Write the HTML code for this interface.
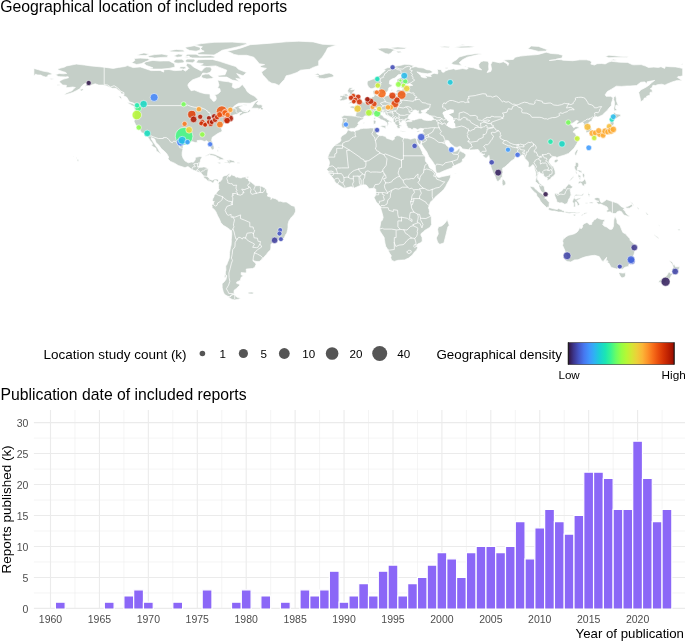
<!DOCTYPE html>
<html><head><meta charset="utf-8"><title>Figure</title>
<style>
html,body{margin:0;padding:0;background:#fff;}
svg{display:block;font-family:"Liberation Sans",sans-serif;}
</style></head><body>
<svg width="685" height="641" viewBox="0 0 685 641">
<rect width="685" height="641" fill="#fff"/>
<path d="M58.8,68.5L64.6,67.1L66.6,65.9L76.3,64.1L84.4,65.0L90.7,65.9L97.0,66.5L104.2,67.2L113.2,68.4L118.6,67.4L124.9,66.5L127.6,65.6L133.1,67.6L140.3,66.9L151.1,70.6L160.1,70.4L163.7,72.1L163.7,69.7L169.1,69.5L174.5,70.6L181.7,70.2L182.6,69.1L185.3,71.1L188.0,69.3L188.9,68.4L186.2,65.6L187.1,63.2L190.7,64.3L192.5,66.1L194.3,67.4L197.0,68.7L199.7,70.2L201.5,71.1L204.2,68.0L206.0,66.9L210.5,67.1L211.8,69.3L210.5,72.1L206.9,73.4L202.8,73.0L201.5,75.2L199.7,77.3L194.9,79.0L192.5,79.9L188.9,83.1L187.8,85.1L188.6,87.3L191.1,90.7L194.3,90.1L200.4,92.5L205.1,93.7L210.0,94.0L210.2,98.1L212.0,99.4L213.1,101.3L215.0,101.1L216.3,99.0L215.9,96.3L214.5,95.1L218.1,93.8L220.4,91.6L219.9,88.8L217.6,87.9L219.0,85.1L217.7,80.6L218.6,80.3L222.1,81.0L228.6,81.8L232.9,83.2L232.2,87.0L235.0,88.4L239.4,87.3L242.3,84.4L245.7,88.8L247.1,91.6L250.2,94.0L254.7,96.3L257.9,99.6L255.4,101.1L250.2,103.3L243.0,103.1L238.6,103.3L234.9,105.6L232.2,108.2L230.0,109.7L233.1,108.0L237.6,105.9L242.1,105.2L242.6,105.9L238.8,107.4L241.2,109.3L242.1,110.8L243.9,111.3L247.5,111.7L249.5,109.3L250.5,111.1L248.4,112.6L243.7,113.7L240.1,115.8L239.2,115.2L239.7,113.7L242.1,112.3L239.4,112.6L237.6,113.9L234.0,114.9L231.8,115.6L230.4,118.0L232.2,119.0L229.8,119.5L228.6,120.4L225.0,121.2L225.0,123.2L223.2,124.3L222.2,123.2L223.0,125.5L221.5,127.7L220.6,125.1L220.8,127.9L221.3,128.1L222.2,131.2L220.4,132.3L217.7,133.6L214.3,135.9L212.3,137.2L211.6,140.3L213.2,143.9L214.1,147.0L214.0,148.7L212.7,150.0L212.2,150.0L210.9,148.2L209.1,145.0L208.7,142.6L206.9,140.7L204.4,141.5L201.2,140.3L199.7,140.3L197.0,140.7L197.6,142.6L195.2,142.6L192.9,141.8L189.3,141.5L187.5,142.2L184.6,143.9L183.0,145.2L183.1,148.5L182.2,152.1L182.1,155.2L183.1,158.2L185.1,161.0L187.1,162.1L188.2,162.8L191.3,162.1L193.4,162.3L195.2,159.9L195.4,157.6L196.8,157.1L199.7,156.5L201.5,156.7L201.9,157.5L200.8,159.1L200.1,162.3L199.4,164.1L199.0,166.0L198.1,167.1L199.7,167.3L201.9,167.3L203.3,166.9L205.1,167.1L208.4,168.8L208.0,170.7L207.5,174.4L207.5,176.4L208.7,178.1L210.2,179.4L212.3,180.3L214.3,179.2L215.9,179.0L217.7,179.2L218.8,180.5L217.9,183.3L217.4,181.3L215.0,180.0L214.1,181.3L213.4,183.1L212.3,182.8L211.1,181.8L209.6,181.3L208.9,181.8L207.7,181.1L205.7,178.8L203.9,178.3L203.7,176.2L202.4,174.4L200.4,172.5L197.9,172.0L195.2,170.8L192.2,169.7L188.0,166.6L185.3,167.5L184.4,167.5L178.3,165.5L174.5,163.2L170.4,161.4L167.8,158.8L168.5,158.2L168.5,156.7L166.6,153.5L163.7,150.6L161.7,149.1L158.5,144.8L156.1,142.8L154.7,139.0L151.4,137.6L151.4,139.0L153.8,142.8L155.0,144.6L155.9,145.9L157.7,148.3L159.5,151.7L160.8,153.5L160.3,154.1L159.5,153.0L156.3,150.9L155.9,148.3L153.6,147.0L151.1,145.0L152.5,144.4L152.0,142.8L149.8,140.2L148.2,137.6L147.1,135.9L144.9,133.8L141.2,132.5L140.8,131.2L138.6,128.6L137.6,126.4L136.7,126.0L135.4,124.2L134.1,121.6L134.5,119.0L134.0,117.1L134.7,114.9L134.9,110.8L133.6,106.7L137.6,108.3L137.0,105.6L136.3,105.0L133.4,103.1L129.4,101.8L128.0,99.4L126.7,97.2L123.5,95.7L124.0,94.0L121.2,93.8L120.4,91.6L117.7,89.7L115.9,88.3L112.3,88.3L106.6,86.0L103.3,85.1L98.8,85.1L95.2,83.8L91.6,85.1L89.1,85.1L84.8,86.6L85.3,85.8L88.0,82.9L84.4,83.8L81.7,86.0L79.9,88.8L76.3,90.7L72.7,92.5L69.1,93.7L65.5,94.4L63.7,94.8L66.4,92.9L70.0,91.6L72.1,90.7L74.1,88.3L75.4,87.5L72.7,87.0L69.1,87.5L66.0,87.7L66.4,85.3L62.8,85.1L59.2,81.8L61.0,80.3L63.7,79.1L68.5,77.8L68.2,76.7L65.5,76.9L60.2,76.7L58.3,76.5L55.4,74.7L59.2,73.4L63.3,73.8L66.7,73.4L65.3,72.3L63.1,71.7L57.7,69.7Z M226.8,51.2L235.8,49.4L241.2,47.9L250.2,44.7L268.2,43.4L286.2,41.8L298.8,41.2L313.2,41.9L322.3,44.2L336.7,45.1L327.7,47.9L325.9,51.6L324.1,54.4L322.3,57.2L318.7,60.9L318.7,65.6L313.2,67.4L309.6,69.3L300.6,70.2L297.0,72.5L290.7,74.7L286.2,75.8L284.4,79.5L281.7,82.3L279.0,85.5L275.4,83.8L271.8,83.2L268.7,81.4L265.1,77.3L262.8,75.1L261.5,72.1L266.4,68.4L261.0,67.4L260.1,65.9L264.6,64.6L259.2,63.7L257.4,61.3L253.8,57.2L246.6,55.3L238.5,55.3L234.0,54.4L230.4,52.5Z M196.1,62.8L197.9,59.8L205.1,59.4L212.3,59.4L219.5,61.3L228.6,64.3L235.8,66.5L238.5,69.3L246.6,72.6L243.0,75.8L236.7,73.6L241.2,79.1L235.8,78.4L239.4,81.4L232.2,80.1L226.8,77.1L218.6,77.1L217.7,75.4L225.0,74.7L226.8,70.2L219.5,67.4L215.9,65.9L206.9,66.5L199.7,65.6L203.3,63.7Z M169.1,68.4L175.0,67.1L174.5,63.7L169.1,60.9L163.7,60.9L160.1,61.1L152.9,60.4L145.7,61.8L143.9,63.5L146.6,65.6L152.9,67.8L148.4,68.4L153.8,69.1L161.9,69.1Z M131.6,62.8L136.7,64.5L141.2,63.7L146.6,61.3L150.2,60.0L147.5,58.5L140.3,58.1L134.0,58.5L134.9,60.4Z M174.5,62.8L178.1,63.2L183.5,62.8L184.4,60.9L181.7,59.2L176.3,59.2L173.6,60.9Z M186.2,62.2L192.5,62.8L195.2,60.9L194.3,59.1L187.1,59.1L185.3,60.9Z M179.0,68.4L183.5,69.1L186.2,68.4L185.3,66.7L180.8,66.7Z M201.5,75.2L205.1,74.1L208.7,74.1L213.6,77.8L211.4,78.6L206.9,79.0L203.3,78.2L201.5,77.3Z M185.3,56.6L192.5,57.9L203.3,58.1L214.1,57.9L215.0,56.6L210.5,55.5L199.7,55.9L196.1,54.2L187.1,54.2Z M197.9,54.6L214.1,55.0L217.7,53.1L222.2,50.3L230.4,48.5L239.4,46.4L246.6,44.2L246.6,43.1L232.2,42.1L214.1,42.3L201.5,43.6L194.3,44.9L202.4,46.8L199.7,49.2L204.2,51.2L197.9,52.7Z M185.3,47.3L194.3,45.7L199.7,47.3L201.5,49.8L196.1,51.2L189.8,50.5L186.2,48.8Z M147.5,55.9L154.7,54.6L161.9,54.0L168.2,55.3L167.3,57.2L161.9,57.4L154.7,58.1L149.3,57.2Z M173.6,56.1L178.1,54.0L182.6,54.6L181.7,56.8L177.2,57.2Z M136.7,55.0L143.9,52.9L149.3,54.0L145.7,55.5L139.4,55.5Z M169.1,50.7L176.3,49.4L183.5,50.1L184.4,51.8L178.1,52.0L170.9,51.8Z M184.4,57.0L188.9,56.1L189.8,57.2L187.1,57.8Z M251.4,108.2L253.1,105.4L255.0,102.4L257.4,100.7L258.3,101.3L256.5,103.7L258.3,104.8L261.0,104.6L262.6,106.1L261.7,107.4L263.3,108.2L262.6,110.0L261.0,109.7L260.6,108.5L257.9,109.5L258.3,108.3L255.0,108.2Z M127.1,102.2L132.7,103.5L134.9,105.2L135.9,106.7L133.4,106.3L131.4,105.2L128.4,103.5Z M118.6,96.1L120.8,96.3L121.9,99.4L119.9,98.1Z M79.7,89.7L82.2,88.8L84.0,89.7L81.2,91.1Z M48.9,78.4L52.0,78.4L54.1,79.1L51.4,79.5Z M56.8,84.7L59.5,84.5L59.5,85.5L57.4,85.5Z M242.3,104.1L246.6,104.8L247.1,105.4L243.9,105.0Z M242.4,109.7L246.2,110.2L245.5,111.1L243.0,110.6Z M77.2,159.1L79.0,159.9L78.1,161.5L77.2,160.4Z M75.9,157.6L77.2,158.0L76.5,158.4Z M73.2,156.5L74.1,156.7L73.6,157.1Z M205.3,156.0L208.7,154.1L209.8,153.5L211.8,153.7L214.1,154.1L216.8,155.2L219.2,156.3L221.9,157.6L224.1,158.9L224.8,159.1L222.8,159.7L221.7,159.5L218.3,159.9L219.2,158.4L217.4,158.0L216.3,156.7L213.4,155.8L210.9,155.4L210.0,154.5L208.0,155.4L206.0,156.2Z M224.2,162.7L224.8,162.1L227.8,162.1L227.1,161.2L226.0,159.9L228.2,159.9L229.1,159.7L230.9,159.9L233.6,160.8L235.0,162.1L234.5,162.8L232.3,162.5L230.4,162.8L229.6,164.0L228.9,163.2L227.7,162.8L225.3,162.8Z M217.0,162.5L219.5,162.3L221.0,163.0L220.8,163.4L219.2,163.8L217.2,162.8Z M237.2,162.3L240.1,162.5L239.7,163.2L237.2,163.3Z M246.8,176.8L248.6,176.6L248.4,177.9L246.8,177.9Z M217.0,150.0L218.1,149.8L218.3,151.5L217.4,151.5Z M218.1,146.7L219.4,147.4L219.2,148.3L218.3,147.4Z M218.8,180.5L219.9,181.8L222.1,179.2L222.2,177.4L223.5,176.2L224.6,175.7L226.9,175.3L229.1,173.6L229.8,174.8L228.7,176.2L229.3,176.8L230.4,176.2L231.8,174.2L232.5,175.3L235.0,175.9L235.8,177.2L237.7,177.0L239.4,177.7L241.2,177.9L242.6,177.2L246.6,176.8L245.7,178.1L248.4,179.0L248.7,180.9L250.5,181.4L253.4,184.1L255.6,185.7L258.8,185.7L261.0,185.9L264.1,187.6L265.5,188.5L266.4,189.4L266.9,192.8L268.2,193.5L267.3,196.1L271.1,197.3L270.9,199.5L272.2,197.8L275.4,198.7L277.9,200.0L278.5,201.3L280.8,201.2L283.0,202.1L286.2,201.9L288.9,203.6L291.3,205.4L294.7,206.4L294.9,207.5L295.6,209.9L295.4,211.8L294.0,214.7L291.6,217.0L288.9,220.9L288.0,224.2L288.0,227.2L287.7,229.6L286.8,233.2L285.7,234.5L284.4,237.6L282.6,239.5L280.5,239.5L277.8,240.0L274.9,241.3L271.8,243.6L270.9,244.3L270.9,248.0L270.4,249.9L268.2,252.1L266.4,254.4L264.4,256.6L262.1,259.4L259.2,261.6L257.0,261.6L254.0,260.9L253.1,259.9L253.1,261.1L255.2,262.7L256.1,264.2L254.7,267.4L252.5,268.5L246.2,269.1L246.4,272.0L246.0,273.0L241.2,272.6L241.2,274.8L243.5,275.8L242.4,276.5L241.2,277.2L240.3,280.4L236.7,282.1L236.7,283.4L239.5,284.3L239.5,285.6L236.5,288.4L234.1,290.3L234.0,292.7L235.0,294.0L233.1,294.4L230.5,295.7L229.8,297.0L227.7,296.2L225.9,295.3L224.1,293.8L223.2,291.6L222.2,287.8L222.1,284.1L222.2,283.6L224.1,281.9L225.9,279.5L226.8,275.8L225.3,274.4L225.5,271.1L226.0,270.7L225.7,265.9L226.6,265.1L227.5,262.7L229.3,258.1L229.5,254.4L229.6,252.3L230.4,247.8L231.1,245.1L231.4,240.6L231.3,239.7L231.8,234.3L231.6,231.1L229.6,229.4L227.1,227.6L223.2,225.3L220.8,222.6L219.4,219.0L217.7,215.9L216.7,213.6L215.9,211.8L214.3,209.5L212.0,207.7L212.2,206.2L211.8,205.4L213.2,203.2L214.3,201.3L213.6,201.5L212.3,200.8L212.9,198.6L214.0,196.7L214.0,195.4L214.7,194.8L216.3,193.4L217.0,191.9L219.4,189.4L218.6,188.9L218.6,186.5L218.8,184.4L217.9,183.3Z M234.7,294.5L235.4,295.8L236.7,297.1L240.8,298.3L238.5,299.2L234.7,299.9L232.2,299.4L229.5,298.1L228.0,297.1L230.4,296.8L231.4,294.9Z M224.8,274.4L226.0,274.8L225.9,277.4L224.2,277.2Z M248.0,292.3L252.0,292.1L254.1,292.7L252.3,294.0L248.4,293.8Z M348.2,129.7L346.9,128.8L345.7,127.5L343.9,127.9L342.1,127.9L341.4,124.7L342.3,121.9L342.6,120.1L341.5,116.7L343.2,116.0L344.1,115.2L348.0,115.6L351.5,115.8L354.7,116.2L355.6,115.8L356.1,113.6L356.3,111.9L356.1,110.8L354.5,109.3L353.8,108.7L352.7,108.3L350.4,107.8L349.7,106.7L352.0,105.9L354.7,106.3L355.6,106.3L355.4,104.4L356.0,104.3L356.3,104.8L357.8,105.0L358.5,104.6L360.3,103.9L361.2,102.4L361.7,101.8L363.5,101.5L364.8,101.1L365.7,100.0L366.8,98.1L368.2,97.4L370.7,97.4L371.3,97.4L372.7,96.8L374.0,96.4L374.3,95.7L373.8,94.6L373.3,93.5L372.9,91.6L373.1,91.2L373.8,90.5L377.4,89.4L377.2,89.9L376.9,91.4L376.7,92.2L377.9,91.8L376.1,93.8L376.0,94.8L376.7,95.5L378.1,95.5L377.9,96.3L380.1,95.9L382.4,95.1L384.1,96.4L386.4,95.9L388.9,95.0L392.0,95.5L394.2,95.1L396.3,93.1L396.1,91.6L397.0,89.9L399.0,89.2L401.7,90.7L402.4,88.1L400.6,87.5L400.6,87.0L403.0,86.0L408.8,86.0L412.7,85.3L410.0,83.8L407.0,84.2L403.4,84.7L399.7,85.5L398.3,84.4L397.0,82.3L397.0,79.3L399.7,78.0L404.1,75.8L401.9,74.3L398.3,74.7L396.7,76.4L394.9,78.0L392.0,79.0L389.7,80.6L389.3,83.8L392.2,85.1L391.8,86.4L388.9,87.7L388.4,89.4L387.9,91.2L386.4,92.4L384.2,93.5L382.1,93.7L381.7,93.3L381.2,92.5L381.4,91.2L379.7,89.4L378.5,87.1L377.6,85.3L376.9,87.0L376.3,87.0L372.7,88.6L370.9,88.8L368.4,87.0L367.3,84.4L367.1,83.1L367.5,81.0L369.3,80.4L372.2,79.3L375.4,78.2L377.2,76.7L378.5,76.0L380.3,74.9L381.0,73.9L384.2,71.5L385.3,70.2L383.5,69.7L387.1,67.8L392.5,67.1L396.1,66.1L401.0,65.2L404.8,64.3L408.8,64.5L414.3,65.8L412.4,66.9L416.0,66.7L418.7,67.6L423.2,68.0L426.8,69.7L430.0,70.0L432.4,71.7L432.2,72.8L427.7,73.8L421.4,73.0L416.9,71.9L418.7,73.4L421.0,75.8L421.0,76.7L424.1,77.8L426.8,77.8L425.0,75.8L427.7,76.2L431.3,76.5L430.4,74.9L434.0,73.2L437.6,73.9L437.9,72.1L437.2,69.3L441.2,69.7L442.1,72.1L443.9,72.3L445.7,70.8L448.4,69.8L453.8,68.7L455.6,69.7L458.3,69.3L462.8,68.5L466.4,69.3L468.2,68.4L467.3,66.9L473.6,67.8L475.4,68.4L479.0,69.5L481.7,69.8L479.0,67.4L478.7,64.6L480.8,61.8L483.5,60.9L488.0,61.3L488.9,63.7L488.6,66.5L488.9,69.3L487.1,72.5L490.7,71.5L491.6,69.3L490.7,64.6L492.5,61.3L498.0,62.4L499.8,62.8L503.4,61.8L507.0,63.7L507.9,65.6L508.8,63.2L503.4,60.0L513.3,59.4L515.1,57.2L520.5,56.1L527.7,55.3L534.9,54.8L538.5,54.4L546.2,52.2L551.1,53.5L558.3,54.0L562.8,55.3L561.9,58.1L556.5,59.1L555.6,59.8L549.3,60.5L557.4,59.4L561.9,59.8L562.8,60.2L572.7,60.7L579.9,59.8L586.3,59.8L589.9,60.5L591.7,62.2L590.8,64.1L594.4,65.0L597.1,63.7L601.6,63.5L605.2,63.9L608.8,62.0L611.5,61.3L619.6,62.2L627.7,62.4L632.2,64.6L634.0,64.8L641.2,64.6L645.7,66.1L648.4,67.4L653.8,67.1L658.3,67.4L661.0,66.7L664.6,68.4L665.5,66.3L670.0,66.7L675.5,66.9L679.1,67.6L682.7,68.4L682.7,75.8L680.0,76.5L678.2,76.4L677.3,77.3L681.8,80.3L681.2,80.8L677.3,80.4L672.7,81.8L669.1,83.2L665.5,84.7L665.2,85.3L661.9,84.2L657.4,84.7L655.6,85.5L652.9,85.3L652.0,87.7L650.2,88.8L652.0,89.4L652.4,92.2L650.2,92.2L649.9,94.0L650.2,95.0L646.6,96.3L646.6,97.7L644.3,98.1L643.6,100.0L640.7,101.8L640.3,99.0L639.4,95.3L638.7,92.5L640.9,89.7L643.0,88.8L646.3,87.0L649.9,84.5L652.0,82.3L654.7,80.4L652.4,80.8L647.2,81.8L646.6,84.0L644.8,81.9L640.7,82.3L636.7,85.5L630.0,86.0L626.8,86.0L621.4,86.4L616.3,86.2L611.5,89.2L607.3,91.6L605.2,94.8L606.1,96.3L610.6,96.3L613.1,97.7L612.7,99.0L612.4,100.4L611.5,102.8L611.3,105.6L608.8,108.3L607.5,110.2L605.2,112.3L602.5,114.9L598.9,116.7L597.8,117.1L596.0,116.5L594.0,117.6L592.2,119.0L592.0,120.8L589.0,122.3L588.1,123.8L589.9,125.3L591.5,127.9L591.7,129.7L590.9,131.4L589.0,132.0L586.3,132.7L585.9,132.0L586.3,129.7L585.9,128.1L586.4,126.9L584.5,126.4L583.5,125.1L583.9,124.7L583.5,123.0L582.5,122.3L577.4,124.3L576.7,123.2L578.5,121.0L576.3,120.6L573.8,122.5L570.6,124.2L572.4,125.8L572.7,126.4L573.6,127.7L576.0,126.4L577.1,126.8L579.0,127.1L578.9,128.1L575.3,129.6L573.3,131.4L573.3,132.2L575.1,133.1L576.2,135.3L578.0,137.6L578.0,139.0L576.3,140.3L578.1,140.9L578.0,141.5L576.3,144.6L574.0,148.3L571.1,151.1L568.6,153.4L564.1,155.2L562.8,155.6L559.6,156.5L557.4,157.3L556.9,158.9L556.2,156.9L554.9,156.7L553.5,156.5L550.8,158.0L549.3,159.9L549.0,161.9L550.2,163.8L552.2,166.0L553.5,166.8L555.1,171.0L555.3,174.0L553.1,176.4L551.3,177.4L550.6,179.0L547.1,180.7L547.3,178.5L547.5,178.1L546.4,177.4L544.8,177.0L543.9,175.9L542.6,174.0L540.3,173.3L539.4,171.8L538.5,172.1L538.5,173.4L537.6,176.2L537.2,177.5L537.4,179.6L538.7,181.1L539.6,183.3L540.8,183.9L542.6,185.2L544.3,186.8L544.6,189.6L545.5,192.0L546.1,194.1L545.3,194.3L544.6,193.9L542.5,192.6L540.8,191.1L539.8,188.9L539.0,186.7L538.9,184.8L538.1,184.1L537.2,182.9L535.4,181.8L535.6,180.0L536.0,178.1L535.8,175.3L536.0,173.6L535.1,170.7L534.5,168.4L534.2,166.0L532.9,164.5L531.7,165.8L530.0,167.3L528.4,166.9L528.0,166.9L528.6,164.1L528.2,161.7L525.7,159.3L524.6,158.2L524.1,156.9L523.7,155.2L521.9,154.8L521.0,156.0L518.7,156.3L517.2,156.5L515.1,156.9L514.5,158.9L512.9,159.9L511.5,160.8L508.4,163.8L506.6,165.3L504.8,167.1L502.6,168.2L502.6,169.9L503.0,172.3L502.3,174.6L502.3,177.5L501.2,177.5L500.5,179.4L499.2,180.3L498.0,181.6L496.9,180.9L495.6,178.1L494.9,175.9L493.1,172.7L491.3,168.1L490.4,165.1L489.5,161.4L489.3,159.5L489.3,157.5L488.9,155.4L488.4,156.3L486.2,158.2L485.0,157.8L483.7,156.5L482.6,155.4L484.8,154.1L483.2,154.3L481.7,153.4L479.9,152.4L479.0,150.6L478.1,149.5L474.7,149.8L470.6,150.0L467.5,149.6L462.5,148.9L461.0,146.9L459.8,146.3L457.0,147.4L454.7,147.0L452.9,145.5L449.8,142.9L448.8,140.9L446.6,140.2L445.9,140.9L444.8,142.0L445.5,143.7L446.2,145.2L447.9,146.5L448.8,147.6L448.8,149.1L449.8,150.6L449.8,149.3L450.6,148.2L451.3,149.8L450.7,151.1L451.6,152.1L456.3,151.1L458.0,149.6L459.2,148.3L459.9,147.8L459.8,149.3L459.9,150.0L460.5,151.3L463.9,152.8L466.1,154.8L465.2,156.9L463.7,158.8L462.5,159.1L462.3,161.4L460.1,163.2L458.0,164.0L455.8,165.1L452.4,166.6L452.4,167.7L446.8,169.7L444.1,170.8L439.4,172.9L436.7,173.1L436.1,172.0L435.6,169.2L435.2,166.2L434.9,165.3L432.4,161.2L428.9,156.7L426.8,151.9L423.9,148.0L421.7,144.6L421.4,141.8L420.1,145.0L418.8,144.1L417.0,141.1L416.5,138.5L420.1,138.3L421.0,137.0L421.4,135.7L422.3,133.6L422.8,132.5L422.8,130.7L423.5,128.6L422.3,128.6L420.6,128.3L417.4,129.7L416.0,128.8L413.6,128.1L413.3,129.2L411.6,129.4L410.7,128.6L409.3,128.3L407.7,127.9L407.3,126.6L406.6,125.3L405.7,125.5L406.6,124.2L406.4,123.6L405.3,123.2L405.5,122.3L407.9,121.6L408.8,121.6L410.7,121.6L412.2,121.0L410.6,120.4L411.5,120.1L414.9,119.9L415.6,119.5L419.2,118.6L421.6,118.6L423.7,119.9L425.9,120.3L427.5,120.6L429.8,120.4L431.3,120.4L433.3,119.3L433.4,118.2L432.2,116.7L429.8,115.6L428.6,114.7L426.4,113.6L425.5,113.2L424.4,112.6L425.7,112.4L426.8,111.1L427.3,109.8L429.1,108.9L425.9,109.1L424.6,109.8L421.9,110.6L421.0,110.8L421.9,112.3L424.1,112.3L422.1,113.0L420.3,113.9L418.7,113.7L418.5,112.6L416.9,112.4L418.1,111.5L419.0,111.0L416.9,111.0L416.3,110.2L415.1,110.0L413.6,110.2L413.3,111.0L411.8,112.6L410.0,114.5L408.6,116.3L407.9,117.6L408.8,118.6L410.6,119.9L410.4,120.3L407.9,120.4L406.4,121.6L405.5,122.2L405.2,121.2L405.0,120.8L402.3,120.6L401.5,121.0L402.1,121.9L401.4,122.3L400.5,122.4L399.6,121.2L399.0,121.6L399.2,122.5L399.9,123.6L399.6,124.2L399.0,124.3L400.5,125.1L401.5,125.6L401.5,126.6L400.8,126.2L399.7,126.2L400.1,127.1L399.9,128.6L400.1,129.0L399.4,128.3L398.8,129.0L398.1,127.9L397.8,128.3L397.4,128.3L397.2,127.3L396.7,126.8L397.4,125.6L396.9,125.5L396.1,125.1L395.6,124.2L394.7,123.2L394.3,122.5L393.3,121.6L393.3,119.9L393.3,118.8L392.7,118.4L390.9,117.5L387.9,115.8L385.7,114.7L385.1,113.2L384.2,112.4L383.2,113.4L382.6,112.1L383.2,111.9L380.6,112.3L380.8,113.2L380.5,114.1L381.0,114.7L382.6,115.6L383.9,117.6L387.5,118.8L387.0,119.3L388.8,120.3L390.7,121.2L391.6,122.1L391.5,122.7L390.7,122.3L389.3,121.4L388.2,122.3L388.0,122.9L389.3,124.0L388.2,124.5L387.3,126.2L386.4,125.8L387.0,124.7L387.5,124.2L387.1,123.6L386.6,122.3L385.9,122.3L385.0,121.0L383.9,120.8L382.8,120.1L381.0,119.7L379.6,118.4L378.3,117.8L377.2,116.9L376.9,115.8L376.0,114.7L374.3,114.1L373.6,114.3L372.4,115.2L371.5,115.4L368.9,116.5L367.9,116.2L366.6,116.0L365.3,115.8L363.9,116.5L363.7,117.5L364.2,118.0L362.3,119.7L360.5,120.3L359.9,121.0L358.3,122.3L357.8,123.2L358.7,124.7L357.4,125.5L357.0,126.8L355.4,127.5L354.3,128.4L353.8,128.3L352.0,128.4L350.4,128.4L348.7,129.6Z M33.9,68.4L38.4,69.7L42.9,71.1L48.4,72.1L52.3,73.8L51.1,74.7L48.0,75.1L47.5,76.7L45.7,77.1L42.9,76.2L40.8,75.1L37.0,74.9L36.1,73.9L33.9,75.8Z M348.0,103.5L348.9,103.7L351.8,103.3L354.0,102.8L356.0,102.6L358.7,102.4L360.8,101.7L360.8,101.1L359.6,100.9L360.6,100.2L361.4,99.0L360.6,98.3L358.8,98.3L358.8,97.9L358.5,97.0L358.1,96.1L357.2,95.3L356.1,95.1L355.8,94.4L354.7,92.9L352.5,92.5L353.6,92.0L354.5,90.5L355.1,89.7L354.7,89.4L350.7,89.7L351.3,89.0L352.7,88.1L352.9,87.7L349.3,87.7L348.6,89.0L347.8,90.1L347.8,90.7L347.1,91.2L348.4,91.8L347.8,93.8L348.7,92.9L349.5,92.7L349.8,93.7L349.1,94.8L349.5,95.1L352.0,94.6L351.8,95.3L353.1,96.1L352.7,96.6L352.7,97.4L352.0,97.6L350.0,97.6L349.7,98.5L350.9,99.0L349.8,99.8L348.7,100.2L349.1,100.7L351.1,100.9L352.5,101.1L353.4,100.7L352.9,101.5L350.2,101.8L349.3,102.8Z M345.0,93.7L347.1,94.0L348.0,95.1L348.4,95.9L346.9,96.3L347.3,97.6L347.5,98.3L346.8,99.6L345.7,99.8L343.3,100.4L340.6,100.9L339.6,99.8L340.8,98.9L342.1,97.7L339.9,97.4L340.1,96.3L340.3,95.7L343.0,95.7L343.5,95.1L343.3,94.2Z M314.2,74.9L317.8,73.2L319.9,74.9L321.4,74.7L325.9,73.6L329.1,73.0L332.0,73.9L333.8,75.4L333.1,76.9L330.9,77.3L327.7,78.0L324.1,78.8L321.4,78.4L317.4,78.0L318.7,77.3L315.1,76.2L318.7,75.8L317.8,75.1Z M377.6,48.8L381.7,48.1L387.1,47.9L390.7,48.5L396.1,49.9L392.5,51.1L391.6,52.5L388.9,54.2L385.3,53.5L383.2,52.2L379.0,50.1Z M391.6,47.5L397.9,47.0L407.0,47.7L404.3,49.0L396.1,49.2L391.6,48.5Z M396.1,51.2L400.6,51.2L401.5,52.5L397.9,52.9Z M439.4,46.8L444.8,46.2L450.2,46.6L448.4,47.7L443.0,47.5Z M453.8,47.3L461.0,46.2L468.2,46.0L475.4,46.4L470.0,47.7L461.0,47.9Z M457.4,45.5L462.8,44.6L465.5,45.3Z M451.3,63.5L453.8,64.8L461.9,65.4L459.2,62.8L462.5,59.8L467.3,57.2L477.2,54.8L482.3,53.9L477.2,53.5L466.4,55.0L459.2,57.0L456.5,59.8L452.9,61.7Z M463.7,66.1L467.0,66.5L465.5,67.1Z M445.3,67.8L448.0,67.6L447.5,68.7L445.7,68.7Z M527.7,48.8L531.3,46.0L538.5,46.4L547.5,49.8L545.7,51.1L538.5,51.4L533.1,50.1Z M605.2,56.6L608.8,55.2L614.2,55.7L619.6,56.3L628.6,56.8L626.8,57.6L616.0,57.4L608.8,57.8Z M610.2,60.2L613.3,59.2L616.9,60.0L614.2,60.5Z M680.3,64.5L682.7,63.7L682.7,64.8Z M613.8,97.4L615.4,95.5L616.3,98.1L616.5,100.9L617.8,104.6L619.0,106.1L616.0,105.0L615.3,108.2L616.9,109.7L616.0,110.6L614.2,111.1L613.8,108.3L614.4,105.6L614.4,101.8L613.6,99.4Z M614.0,112.1L616.3,113.9L620.1,114.3L621.0,116.0L618.5,116.9L616.3,118.6L613.5,117.5L612.4,118.0L611.1,118.0L611.8,119.0L610.8,119.7L610.2,118.2L611.1,116.3L611.3,116.0L612.9,116.2L613.5,115.0L613.6,113.0Z M612.2,119.5L613.1,119.7L613.3,121.4L614.2,123.0L613.3,125.5L612.4,125.6L612.4,127.9L612.2,130.3L610.4,131.8L610.2,130.7L610.0,131.4L609.1,131.2L608.4,132.3L607.9,131.6L607.3,132.3L606.4,132.2L605.2,132.3L604.6,131.6L605.0,132.9L603.0,134.6L601.8,133.1L602.3,132.3L601.9,132.2L599.8,132.5L596.9,132.9L595.3,133.5L594.2,133.6L595.1,132.7L596.3,131.8L597.4,130.9L600.1,130.7L601.9,130.1L603.4,130.3L603.4,129.4L604.5,128.6L605.7,126.9L605.5,128.3L607.3,127.5L608.8,126.2L610.2,124.3L610.0,122.5L610.6,121.9L611.1,120.1L612.0,120.8Z M597.4,133.6L598.0,133.3L599.8,132.7L600.8,133.1L600.1,134.9L598.9,134.4L598.0,135.9L597.1,134.9L596.2,134.8Z M594.2,133.6L593.3,134.2L591.7,134.8L592.2,135.9L592.9,136.8L592.9,138.5L593.8,139.0L594.5,138.3L595.3,137.4L595.6,136.1L596.0,134.9L595.6,134.0Z M577.2,149.6L578.1,150.2L577.4,152.1L576.3,154.7L576.0,156.0L574.9,154.5L574.7,153.0L575.8,150.9L576.5,150.0Z M557.8,159.3L558.3,160.2L557.4,161.7L555.8,162.8L554.2,162.1L554.2,160.8L555.3,159.7L556.5,159.3Z M502.5,178.5L504.1,180.0L505.0,180.9L505.9,183.1L505.5,184.6L503.5,185.7L502.5,185.2L502.1,183.7L502.1,181.4L502.3,180.0Z M400.6,130.7L402.4,130.9L405.7,131.0L405.5,131.6L402.8,131.8L400.6,131.2Z M416.5,131.6L417.8,130.9L420.6,130.3L419.4,131.6L417.8,132.3Z M380.6,126.0L382.4,125.6L386.4,125.5L385.5,126.9L385.9,127.9L385.5,128.4L383.9,127.7L381.7,126.9L380.6,126.4Z M373.1,120.6L374.9,120.1L376.0,121.4L375.6,123.8L374.5,124.0L373.4,124.2L373.4,121.4Z M375.2,116.7L375.4,118.6L374.9,119.7L373.8,118.2L374.0,117.5L375.1,117.3Z M362.6,123.0L364.1,122.5L364.4,123.0L363.7,123.6Z M391.1,90.3L392.4,89.0L392.5,89.9L391.5,90.9Z M378.1,93.1L380.5,92.4L381.0,93.3L379.9,94.4L378.5,94.0Z M376.0,93.5L377.6,93.5L377.6,94.3L376.3,94.2Z M397.6,88.3L400.1,87.7L399.2,88.6L397.9,89.0Z M347.8,130.1L348.7,129.9L351.1,131.2L353.1,131.0L354.7,131.4L356.5,130.3L358.3,129.9L360.6,128.8L363.7,128.3L367.3,128.3L370.7,127.9L373.8,128.1L376.0,127.3L376.9,128.3L378.1,127.9L377.4,129.0L377.4,130.5L378.3,131.2L376.5,132.9L376.5,133.6L378.3,134.9L380.5,135.7L382.1,135.5L385.7,136.6L386.6,138.3L389.8,139.2L392.5,140.3L394.3,139.2L394.3,137.2L397.0,135.5L399.9,136.1L401.5,137.2L403.7,137.9L407.5,138.3L410.6,139.2L412.4,138.7L414.2,138.1L416.5,138.5L416.9,140.9L417.0,141.8L417.8,144.1L419.2,146.1L420.5,148.5L422.3,152.1L422.6,153.9L424.8,155.8L425.3,157.6L425.3,160.2L425.9,161.9L427.7,163.2L429.5,167.7L432.2,169.4L434.9,172.1L436.3,173.4L435.8,175.1L437.6,177.2L439.4,177.4L442.1,176.6L446.6,175.7L450.7,174.8L450.4,177.4L449.3,180.0L447.5,182.8L445.7,186.5L443.9,189.3L441.2,192.0L439.9,193.0L436.7,195.8L434.9,197.4L433.1,199.9L430.7,201.7L429.8,204.1L428.4,207.9L429.1,209.3L429.5,211.6L429.1,213.4L431.3,216.6L431.3,219.9L431.6,224.6L429.8,227.4L425.0,230.2L423.2,231.9L421.2,233.5L420.8,235.0L422.1,237.6L422.3,241.2L420.5,242.8L417.6,244.1L417.0,245.1L417.6,247.8L416.7,249.9L414.2,252.3L412.4,254.9L408.6,258.1L404.4,259.9L401.5,260.1L397.9,260.3L394.3,261.4L391.5,260.3L391.5,259.8L390.7,257.7L391.3,255.7L389.5,253.1L388.0,249.9L385.7,246.2L385.0,243.2L384.4,239.5L384.2,237.6L382.4,234.8L379.9,230.9L379.6,228.3L380.3,225.0L380.8,221.8L382.4,220.1L383.2,217.2L382.1,213.1L381.4,210.6L380.5,207.9L379.9,206.0L379.6,205.6L378.1,204.0L376.0,201.5L375.1,199.5L374.0,197.8L375.2,196.0L376.0,193.2L375.8,191.1L375.8,189.3L374.3,188.3L373.3,188.3L370.9,188.5L369.1,188.7L367.7,186.8L366.2,185.0L364.4,184.8L362.6,185.0L360.5,185.4L357.9,186.5L354.5,188.0L352.5,187.2L351.1,186.8L347.5,187.6L344.4,188.5L341.7,186.8L338.8,185.0L337.6,183.9L335.8,182.9L334.5,180.9L333.6,179.0L331.6,176.6L330.2,174.6L328.0,173.6L328.4,171.6L326.8,169.4L328.6,166.9L329.5,163.0L329.1,160.8L327.7,158.0L327.8,156.7L329.6,152.6L332.2,148.2L335.1,144.8L338.3,143.1L339.9,142.0L341.0,140.2L340.6,138.1L341.7,136.1L344.6,134.2L346.0,133.5L347.1,131.4Z M447.1,219.0L449.3,225.5L448.0,226.5L447.5,228.3L446.2,233.9L443.9,243.0L443.0,243.2L439.8,244.3L437.6,242.3L436.3,238.0L438.3,233.9L437.6,229.2L438.5,226.8L441.7,225.9L444.4,223.7L446.2,221.4Z M454.3,173.3L456.5,173.3L455.6,173.8Z M615.1,216.6L616.9,220.1L617.1,223.1L620.1,225.5L621.0,228.1L622.8,232.4L625.9,234.1L627.3,236.1L630.0,238.7L630.0,240.2L631.1,241.3L633.1,242.8L634.4,244.1L634.4,247.7L635.1,249.9L634.4,253.1L633.8,255.1L631.8,257.9L630.9,259.8L630.0,262.2L628.6,265.7L628.6,266.4L625.0,267.2L622.1,269.4L619.6,267.9L618.9,267.9L616.9,269.1L613.5,268.1L611.3,267.4L610.0,265.3L608.8,263.1L607.2,262.9L607.9,261.6L607.0,260.3L605.2,262.2L606.1,259.9L606.6,257.3L606.1,258.1L603.2,261.4L601.9,260.9L600.1,258.1L599.2,256.6L594.7,255.3L590.8,255.7L585.4,256.8L581.7,258.1L578.0,259.8L574.4,259.9L570.8,262.0L567.3,261.6L565.7,260.7L565.5,259.0L566.6,258.6L566.8,256.2L565.5,253.4L564.8,250.3L563.9,248.2L562.6,245.4L563.2,243.0L562.6,241.3L563.9,237.2L564.4,238.5L565.7,236.9L568.8,235.2L572.0,234.5L574.5,233.7L577.2,232.0L578.5,230.2L579.8,227.2L581.0,228.9L582.6,227.0L582.5,225.5L583.9,223.7L587.0,222.4L588.6,223.7L589.3,224.6L591.7,224.4L591.8,222.7L593.1,221.4L594.0,219.8L595.3,219.4L597.1,217.7L598.9,218.6L601.6,219.4L604.8,219.4L604.5,221.4L603.4,221.8L603.2,224.4L602.5,224.4L604.6,226.3L606.6,227.0L609.9,229.4L612.0,229.2L612.2,229.1L613.5,226.3L613.6,224.2L613.8,220.1L614.4,217.7Z M619.0,272.4L622.3,273.1L625.5,272.8L625.5,275.2L624.8,277.1L622.8,277.8L621.4,277.6L620.1,275.9L619.0,273.7Z M669.5,260.7L670.0,260.7L672.4,262.2L673.5,265.1L674.6,264.6L675.3,266.6L675.8,266.8L680.0,266.8L679.1,268.7L678.9,269.6L677.1,270.2L677.4,270.4L675.8,272.8L674.2,274.1L673.3,273.5L673.7,272.6L673.7,270.9L671.5,269.8L672.0,269.2L673.3,267.4L672.7,265.5L672.2,264.4L670.8,262.5L670.0,261.8Z M669.5,272.0L670.6,273.5L672.4,273.0L672.4,274.3L671.3,275.6L670.2,278.2L667.0,279.3L666.4,280.6L665.9,282.1L664.3,283.0L661.6,283.4L660.1,282.6L658.5,282.4L659.2,280.4L660.7,279.7L662.1,278.5L662.8,278.4L664.6,277.1L666.8,275.6L667.5,274.3L668.4,272.6Z M594.4,198.2L597.1,197.4L599.8,198.2L600.1,201.0L601.4,202.8L603.2,202.1L606.6,199.5L611.8,201.3L617.1,203.0L618.7,204.0L621.0,206.4L624.1,207.9L624.6,209.2L623.2,209.3L625.4,211.8L626.1,213.4L628.6,215.5L630.0,215.9L628.6,216.4L626.8,215.9L624.6,215.3L623.4,214.4L621.4,211.6L619.2,211.0L616.9,212.0L616.7,212.5L616.0,213.6L612.4,213.6L610.2,211.8L607.0,212.3L606.6,210.5L608.2,209.5L607.0,206.9L603.4,205.3L600.7,204.1L598.0,204.3L597.6,203.2L596.0,202.1L598.9,201.3L596.2,200.6L594.4,199.3Z M625.5,207.1L628.6,206.0L631.3,204.5L632.7,204.7L632.2,206.6L629.5,208.2L626.8,208.2Z M630.0,201.5L632.2,202.7L634.0,205.1L633.5,205.4L631.3,203.0Z M636.9,206.7L639.2,208.8L638.7,209.5L637.2,207.9Z M645.7,212.1L648.4,214.4L647.5,214.9L646.1,213.8Z M653.8,234.3L657.4,236.7L659.2,238.2L658.3,238.4L654.7,235.8Z M677.8,229.2L680.0,229.1L680.1,230.4L678.0,230.6Z M658.5,224.6L659.8,225.7L659.6,227.0Z M555.8,193.0L557.1,193.5L558.7,193.9L559.0,192.2L561.9,190.7L563.7,188.3L565.5,187.4L567.3,185.5L568.8,183.7L570.4,184.8L571.1,185.7L573.1,186.8L571.8,188.1L570.8,188.7L570.2,190.4L570.8,192.8L570.9,194.7L572.6,194.8L570.6,195.6L569.9,197.8L568.8,199.1L568.1,201.3L567.3,203.4L564.8,204.3L561.9,202.7L559.8,203.0L556.9,202.1L556.5,200.0L555.1,196.7L554.5,195.0L554.7,193.7Z M530.0,186.3L534.0,187.0L535.4,189.1L536.2,189.6L538.5,191.7L539.9,192.6L541.7,193.5L543.9,195.6L545.3,197.3L544.6,198.2L546.4,198.7L547.3,200.6L549.3,202.3L549.1,205.1L549.0,207.5L548.1,206.9L546.6,207.5L544.6,205.6L542.6,203.8L540.3,201.0L539.2,198.4L536.9,196.1L536.3,193.5L534.4,192.2L531.5,189.1L530.0,187.0Z M547.9,209.3L549.3,207.7L550.8,208.0L553.8,208.8L557.2,209.5L558.3,208.6L561.2,209.5L561.6,210.1L564.4,211.0L564.6,212.9L561.9,212.1L558.3,212.0L554.7,211.0L552.0,211.0L550.0,210.5Z M564.8,211.8L566.8,211.8L568.6,212.1L570.4,212.0L572.6,212.1L574.5,212.1L577.2,212.5L579.9,212.1L579.6,212.9L576.3,213.3L574.2,213.1L571.8,213.1L569.1,213.4L567.0,213.1L565.5,212.9Z M580.8,215.9L582.6,214.0L584.5,212.9L587.5,212.3L586.3,213.4L583.5,214.6L582.1,215.7Z M572.7,214.4L574.9,214.2L576.0,215.3L574.5,215.9Z M583.2,193.5L583.9,194.1L582.3,196.0L579.9,195.8L576.7,195.8L574.9,196.1L574.7,198.4L576.0,199.3L577.4,198.4L580.5,197.8L580.7,198.6L578.1,199.9L577.2,200.2L576.9,200.4L578.5,202.3L579.6,204.3L579.2,204.9L578.5,205.6L577.2,205.4L577.4,204.3L576.3,201.9L576.0,201.7L575.1,202.3L575.3,204.1L575.3,206.9L573.8,207.1L573.5,206.2L573.8,204.1L573.6,203.2L572.4,201.7L573.3,199.1L574.2,198.0L574.2,196.3L574.9,195.0L576.2,194.3L579.0,194.8L581.4,195.0Z M588.1,192.6L589.0,193.9L590.2,193.9L589.3,195.8L589.9,197.3L588.6,196.1L588.1,194.8Z M589.0,202.3L591.7,201.9L594.0,202.7L592.6,203.2L589.9,203.2Z M585.4,202.7L587.5,202.7L587.2,203.8L585.7,203.6Z M575.6,162.3L578.0,162.5L578.7,164.7L578.5,166.6L577.4,167.3L577.4,170.1L579.4,170.1L580.5,170.8L581.7,170.8L581.9,173.3L580.8,172.5L579.2,172.0L577.8,170.8L575.8,171.0L575.6,169.9L574.9,169.2L574.5,167.9L574.2,166.4L575.3,165.8L575.3,164.1Z M584.5,178.5L585.9,180.9L586.4,183.1L585.7,185.0L584.8,183.9L584.3,186.3L582.1,185.2L581.7,183.7L580.7,182.9L578.3,183.9L578.3,182.2L579.9,180.9L581.4,181.6L583.0,180.9L583.9,180.0Z M582.3,173.4L584.1,173.4L584.8,175.9L583.9,177.7L583.2,177.7L582.6,175.5Z M578.1,174.6L580.1,175.3L580.8,176.4L580.3,179.8L579.0,179.0L579.6,177.2L578.1,177.2Z M569.5,181.1L571.8,179.4L573.6,177.2L573.6,175.5L572.7,177.0L570.9,178.8L569.5,180.5Z M575.3,171.6L576.7,171.8L577.2,173.6L576.3,174.0Z" fill="#c5cfc8" stroke="#fff" stroke-width="0.7" stroke-linejoin="round"/>
<path d="M444.8,111.3L447.5,110.2L450.2,109.3L453.8,109.7L453.8,112.4L450.2,113.9L448.9,114.3L450.6,115.6L452.9,117.3L453.4,119.9L455.6,119.5L453.8,122.3L455.2,123.8L455.4,126.9L455.6,128.1L452.0,128.6L448.4,127.1L446.4,125.3L447.0,123.6L448.9,121.6L447.5,121.0L446.6,119.5L445.3,118.6L443.9,116.7L443.5,114.9L442.5,113.7L443.0,112.1Z" fill="#fff"/>
<path d="M104.2,67.2L104.2,84.5L107.8,85.1L110.5,87.0L114.1,85.7L117.7,87.9L120.8,91.2L124.0,92.7L123.9,94.0 M136.3,105.6L186.7,105.6L187.5,105.0L190.7,106.3L194.3,107.2L197.0,107.4L199.0,106.9L205.5,109.5L206.0,110.2L207.8,111.1L208.0,112.4L209.6,112.4L210.4,115.6L209.6,116.7L208.6,118.2L209.6,119.1L215.9,117.1L215.9,116.2L215.6,115.8L219.9,115.6L220.8,114.5L223.2,113.0L229.5,113.0L230.7,112.4L231.6,110.8L232.2,109.8L233.6,108.5L235.2,108.7L236.1,109.1L236.1,111.5L236.8,112.4L237.6,113.2 M147.3,136.2L151.6,135.9L151.4,136.2L158.3,138.5L163.3,138.5L163.3,137.6L166.4,137.6L169.3,139.8L170.0,141.5L172.3,142.8L173.4,141.3L175.6,141.3L177.6,144.1L179.0,145.5L179.7,147.6L183.1,148.5 M192.2,169.7L192.2,168.2L193.1,166.8L195.2,166.8L195.4,166.2L193.6,164.5L194.3,164.5L194.3,163.6L197.6,163.6 M199.2,162.3L198.3,163.4L197.6,163.6L197.6,167.1L198.1,167.1 M199.4,167.5L197.6,169.0L197.2,169.9L195.9,171.2 M197.2,169.9L198.8,170.8L200.1,171.8 M201.0,172.5L202.1,171.0L203.7,170.8L205.5,169.2L208.4,168.8 M203.9,176.1L205.7,176.2L207.5,176.4 M208.9,181.6L208.9,179.8L209.5,179.0 M218.8,180.5L219.2,182.0L217.9,183.3 M224.2,160.1L229.1,160.1L229.1,162.7L228.9,163.2 M229.8,174.8L228.0,175.9L226.8,178.5L227.7,181.3L227.8,182.9L230.4,183.7L232.2,183.7L233.2,185.4L236.7,185.2L236.1,186.8L236.1,188.7L237.0,190.4L235.9,191.5L237.2,192.4L237.7,194.5 M237.7,194.5L235.8,193.5L232.5,193.5L232.5,194.7L233.6,194.8L233.2,195.6L232.2,195.6L232.2,197.1L232.9,197.6L232.3,204.5 M232.3,204.5L230.9,203.8L232.2,201.7L228.6,201.2L226.4,200.0L224.4,198.4L222.6,196.9 M222.6,196.9L220.8,196.0L218.6,195.4L216.3,194.1 M222.6,196.9L222.1,199.5L220.3,201.5L217.7,203.0L217.0,205.3L215.6,206.0L213.6,204.9L213.6,203.0 M232.3,204.5L226.9,206.4L225.1,210.3L226.8,214.2L228.2,215.3L231.1,214.4L231.1,217.2L232.9,217.0 M232.9,217.0L234.5,219.9L233.6,223.7L233.4,225.2L234.0,226.8L232.9,228.9L233.1,229.2L231.4,230.7 M233.1,229.2L234.1,232.0L234.9,235.6L235.9,239.1L237.2,239.1 M232.9,217.0L234.9,217.2L240.6,214.9L240.4,218.5L244.4,220.1L248.4,221.8L249.8,222.4L249.8,226.8L253.2,227.0L253.4,229.1L254.5,230.2L254.1,232.0L253.4,233.5 M253.4,233.5L251.8,232.6L247.1,233.2L245.5,238.0 M245.5,238.0L243.0,237.6L242.3,239.1L240.8,237.8L238.8,237.2L237.2,239.1 M237.2,239.1L235.2,242.3L234.9,246.9L232.7,249.7L232.2,254.4L231.4,258.1L232.5,260.3L231.3,263.7L230.2,268.3L228.9,273.0L229.1,277.6L229.8,281.3L228.6,285.1L226.4,288.8L228.0,291.6L228.7,293.4L233.1,293.6L235.0,294.2 M234.7,294.7L234.7,298.8 M245.5,238.0L248.4,241.0L252.3,242.8L254.5,244.1L252.7,247.3L256.7,247.7L257.7,247.5L259.9,244.3 M253.4,233.5L254.0,237.8L257.4,238.2L258.1,241.3L260.5,241.5L259.9,244.3 M259.9,244.3L261.4,246.0L261.5,247.1L257.7,249.5L254.5,252.9 M254.5,252.9L253.4,257.1L253.1,259.9 M254.5,252.9L257.4,254.0L261.0,256.0L262.4,257.5L262.1,259.4 M237.7,194.5L240.3,195.2L243.0,193.9L243.0,192.0L244.1,192.6L241.7,189.1L245.1,189.8L245.3,189.1L248.4,188.3L248.9,187.0 M248.9,187.0L247.7,185.7L248.2,184.2L249.6,183.5L250.2,180.9 M248.9,187.0L250.2,187.4L250.5,188.5L251.1,189.4L250.4,192.2L251.6,194.1L252.9,194.3L253.8,193.9L256.5,193.2 M255.2,185.5L255.0,186.8L253.8,189.3L255.0,190.6L256.5,193.2 M256.5,193.2L257.6,193.0L260.1,192.4 M261.0,185.9L260.3,187.4L260.6,190.0L260.1,192.4 M260.1,192.4L263.0,192.6L265.1,189.3L265.5,188.5 M342.3,118.8L343.5,118.4L346.4,118.8L347.1,119.3L345.9,120.4L345.7,122.9L344.8,123.0L345.7,125.6L345.0,127.5 M355.1,116.0L357.0,116.9L359.6,117.1L361.5,117.8L364.1,117.8 M371.8,115.2L370.9,114.5L370.7,112.8L370.9,111.3 M370.9,111.3L369.5,110.6L369.3,110.8L370.9,108.7L372.0,108.2 M372.0,108.2L373.1,105.6L369.8,104.6 M369.8,104.6L368.8,104.6L366.9,103.7L365.9,103.7L362.8,101.7 M364.4,101.1L366.0,101.1L367.3,100.9L368.8,101.5L368.6,102.2L369.1,102.2 M369.1,102.2L369.5,100.4L370.6,100.2L371.1,99.2L371.3,97.7 M369.1,102.2L369.7,103.1L369.3,103.5L369.8,104.6 M374.0,94.6L376.1,94.8 M383.9,96.4L384.2,97.6L383.7,98.5L384.8,99.8L385.3,101.7 M385.3,101.7L384.1,101.8L380.5,103.1L380.8,103.9L383.2,105.9 M383.2,105.9L381.5,107.0L381.7,108.3L380.3,108.2L377.2,108.3L375.6,108.3 M375.6,108.3L373.8,108.0L372.0,108.2 M370.9,111.3L372.5,111.1L373.4,110.4L374.5,111.5L375.1,110.2L376.5,110.6L377.0,109.5 M377.0,109.5L375.6,108.3 M377.0,109.5L380.3,109.3L380.6,109.8L383.0,110.2 M383.0,110.2L382.8,111.3L383.2,111.9 M383.0,110.2L385.3,110.0L387.3,109.5 M387.3,109.5L388.0,108.3L389.1,107.6L388.9,107.2 M383.2,105.9L385.1,105.6L388.8,106.3L388.9,107.2 M385.3,101.7L387.5,102.6L388.8,103.0L390.2,103.1L391.8,103.9L392.4,104.6 M388.9,107.2L389.3,105.7L391.1,105.0L392.4,104.6 M392.4,104.6L394.0,105.2L396.0,105.0L398.8,105.4 M388.9,107.2L390.6,107.8L392.2,107.8L393.8,107.0L395.2,106.5L398.1,106.7 M398.1,106.7L398.8,105.4 M398.8,105.4L399.2,104.4L401.5,102.8L400.8,100.9 M400.8,100.9L400.8,98.9L401.4,96.4L400.6,96.3 M393.8,95.5L399.4,95.5L400.6,96.3 M399.4,95.5L399.0,94.4L396.7,93.8 M400.6,96.3L404.3,95.9L404.8,94.6L406.2,93.1 M396.3,92.4L399.6,91.8L403.2,91.8L406.2,93.1 M406.2,93.1L409.1,92.2L408.6,89.9L407.7,89.7 M402.1,89.0L403.9,88.8L406.1,89.7L407.7,89.7 M407.7,89.7L408.2,88.8L407.7,87.3L408.8,86.0 M408.4,84.2L411.1,82.7L414.7,80.1L412.4,78.2L413.3,77.3L411.6,76.0L412.5,74.5L410.7,72.3L412.4,70.8L409.7,69.8L410.4,68.4 M410.4,68.4L410.6,67.1L408.6,66.3L405.2,67.1L404.6,68.0L402.8,69.1L399.7,68.9L396.7,67.8L395.4,68.2 M410.4,68.4L412.5,67.2L413.8,66.9 M395.4,68.2L397.2,69.5L400.8,70.4L401.0,72.5L401.9,74.3 M395.4,68.2L394.3,69.5L390.9,69.3L390.6,70.2L388.4,70.4L387.9,71.1L386.1,73.0L384.4,73.8L384.6,75.2L383.0,76.5L383.7,77.3L380.3,78.4L380.1,81.9L381.5,82.5L380.5,83.2L381.0,84.5L379.6,85.5L379.4,87.1L378.5,86.8 M400.8,100.9L403.4,100.2L408.4,100.7L411.1,101.1L413.4,101.3L414.0,100.0L415.6,99.8 M415.6,99.8L415.1,97.7L417.2,97.4L415.6,96.1L413.8,94.8L414.2,93.3L413.3,92.9L411.3,93.1L409.1,92.2 M415.6,99.8L419.2,99.2L420.3,100.5L422.1,102.6L425.9,103.1L426.8,103.9L430.6,104.4L430.0,105.7L429.8,107.6L427.1,109.1 M398.1,106.7L399.6,107.4L403.2,108.0L406.2,106.9L407.9,106.5L410.7,107.6L412.4,110.4L410.6,110.8L409.1,112.1L411.8,112.6 M406.2,106.9L408.9,109.7L409.1,112.1 M398.1,106.7L397.2,109.3L396.1,110.6L394.9,111.0 M394.9,111.0L392.2,111.3L390.0,111.3L388.8,110.6L387.7,110.2L387.3,109.5 M394.9,111.0L397.0,112.6L396.9,113.4L398.8,113.9L399.2,114.5 M399.2,114.5L399.7,115.2L404.4,115.4L407.3,114.5L409.8,115.4 M399.2,114.5L398.7,116.7L399.7,117.3L398.7,118.0L399.7,119.9 M399.7,119.9L402.4,119.3L403.9,120.1L405.7,119.1 M405.7,119.1L407.3,118.4L408.8,118.6 M405.7,119.1L406.2,119.9L405.2,121.0 M399.7,119.9L397.9,120.3L396.1,120.8L395.4,122.1L394.3,122.9 M393.3,118.8L393.8,117.5L395.4,118.8L395.2,119.9L396.1,120.8 M386.8,112.6L388.8,112.6L392.5,113.0L393.3,113.2L392.9,114.9L393.4,115.8L391.6,117.5 M382.8,112.1L385.9,112.1L386.6,110.8L387.7,110.2 M386.8,112.6L387.5,114.5L390.0,116.7L391.6,117.5 M392.5,113.0L392.4,111.3 M393.8,117.5L394.9,117.1L395.4,116.3L397.2,118.0L398.7,118.0 M395.4,118.8L397.2,118.0 M345.0,94.4L343.7,95.3L345.1,96.1L346.9,96.1 M354.3,131.4L355.2,132.5L355.1,134.9L356.0,136.6L353.6,137.0L351.8,137.9L348.9,140.9L345.7,141.6L342.6,143.3L342.6,145.2 M334.5,145.2L342.6,145.2L342.6,148.3L336.7,148.3L336.7,153.0L334.9,153.9L334.7,157.1L327.7,157.1 M342.6,145.9L349.7,150.2L346.6,150.4L348.2,166.0L348.7,167.9L341.5,167.9L339.0,168.1L337.6,167.7L336.3,169.2 M349.7,150.2L360.3,157.5L360.5,158.2L364.1,159.9L364.2,161.4L365.9,161.2 M365.9,161.2L368.8,160.6L379.9,153.0 M379.9,153.0L379.0,151.5L376.9,150.9L375.2,148.0L376.1,147.4L376.1,144.1L375.4,140.5 M375.4,140.5L374.5,137.0L373.3,136.2L371.8,133.8L373.3,131.0L373.8,128.1 M375.4,140.5L376.7,139.0L376.9,137.6L379.0,136.2L379.0,134.9 M403.7,137.9L402.8,140.7L403.4,142.4L403.4,155.8 M403.4,155.8L403.4,159.5L401.5,159.5L401.5,160.4 M401.5,160.4L385.3,153.9L383.9,154.7L379.9,153.0 M403.4,155.8L424.8,155.8 M383.9,154.7L385.5,157.1L386.2,157.8L387.0,158.8L386.2,165.3L382.8,169.7L382.8,171.2 M382.8,171.2L380.8,172.3L376.3,172.0L372.4,172.0L370.6,172.3L368.0,170.8L365.7,171.6L364.8,174.9 M365.9,161.2L365.9,165.3L364.8,167.9L358.7,169.0 M358.7,169.0L358.8,169.9L360.1,171.8L362.3,173.3L362.6,174.0L364.8,174.9 M358.7,169.0L354.7,170.3L352.9,171.2L350.4,173.4L348.9,174.8L348.4,177.4 M336.3,169.2L337.6,173.6L341.5,173.6L343.3,176.2L343.9,177.7L347.1,177.0L348.4,177.4 M328.6,166.9L332.2,165.8L334.2,166.9L336.3,169.2 M328.2,173.6L333.6,173.3L337.6,173.6 M328.0,171.4L331.3,171.0L333.4,171.8L331.3,172.1L328.0,172.3 M331.3,176.2L333.6,174.9L333.6,173.3 M334.3,180.0L335.8,178.5L338.1,178.1L339.2,179.8L339.7,180.9L337.6,183.9 M339.7,180.9L341.4,182.9L343.0,182.6L343.3,184.6L344.8,185.9L344.8,188.5 M343.0,182.6L344.1,180.9L343.9,177.7 M353.4,187.2L352.5,184.1L353.8,181.4L353.3,179.2L353.3,176.2 M348.4,177.4L350.6,178.7L353.3,178.8 M353.3,176.2L357.9,176.1L359.9,176.2 M360.5,185.4L359.4,182.9L359.2,180.3L359.0,177.5L357.9,176.1 M361.2,185.2L361.2,180.0L359.7,177.4L359.9,176.2L362.6,174.0 M363.2,184.8L363.2,180.0L364.8,177.2L364.8,174.9 M373.6,188.0L375.1,184.6L378.5,184.2L379.6,183.5L381.4,180.7L383.0,176.4L384.6,175.3L383.9,173.4L383.7,172.5L382.8,171.2 M383.9,173.4L385.5,174.8L386.2,178.1L383.5,178.7L385.7,182.8 M385.7,182.8L388.6,182.8L391.8,181.8L392.7,180.0L397.4,177.0L399.6,176.4 M401.5,160.4L401.5,167.5L399.6,167.9L398.8,170.5L398.1,173.1L399.6,176.4 M399.6,176.4L401.0,178.3L403.0,180.3L406.1,179.0L408.8,179.2L411.5,178.5L413.8,178.7L416.7,174.9L418.1,174.0L417.8,177.7L419.7,179.0 M419.7,179.0L420.1,177.0L421.4,174.8L423.4,173.1L423.9,169.9L424.1,168.8L425.0,165.1L427.7,163.2 M423.9,169.9L426.6,169.0L428.8,169.5L431.8,170.5L434.7,173.4 M434.7,173.4L433.6,176.2L435.6,176.4L436.3,175.3 M435.6,176.4L436.7,179.2L439.4,180.1L443.0,181.8L444.8,181.8L439.4,187.4L435.8,188.0L434.0,188.9L432.2,189.4 M432.2,189.4L429.5,190.4L427.0,190.0L424.8,188.5L423.2,188.5L423.0,188.1 M432.2,189.4L432.2,196.7L433.3,199.9 M419.7,179.0L419.4,181.1L417.8,182.2L421.4,186.7L423.0,188.1 M423.0,188.1L419.6,188.9L418.7,189.6L414.5,189.6L413.8,190.2L411.8,188.1L409.5,188.7L407.7,187.2L403.9,183.1L403.0,180.3 M407.7,187.2L402.3,187.2L398.8,189.1L395.2,188.5L391.8,190.2L387.5,192.6 M385.7,182.8L384.4,185.5L384.8,188.1L387.5,192.6 M376.0,192.4L378.7,192.6L382.3,192.6L384.4,192.6L387.5,193.5 M376.0,194.8L378.7,194.8L378.7,192.6 M378.3,204.0L379.7,203.0L379.2,201.2L380.8,201.2L384.2,200.2L384.2,199.1L383.3,196.7L384.4,195.0L382.3,194.3L382.3,192.6 M391.8,190.2L390.6,193.5L390.2,197.6L387.9,200.0L387.0,204.0L385.7,204.7L384.2,205.8L381.9,205.3L381.0,205.8L380.3,207.5 M380.3,207.7L382.4,207.7L388.2,207.7L388.9,210.3L393.3,211.6L393.4,209.7L397.6,210.3L397.8,214.4L398.5,217.5L401.5,217.2L401.5,220.9 M401.5,220.9L397.9,220.9L397.9,226.8L400.5,229.4 M379.6,228.9L382.6,228.3L383.9,229.1L391.5,229.1L396.9,230.0L400.5,229.4L403.9,229.8 M396.1,230.7L396.1,237.6L394.3,237.6L394.3,242.8 M394.3,242.8L394.3,249.5L389.7,250.1L388.0,249.9 M394.3,242.8L395.8,246.5L399.0,245.1L403.0,244.7L404.4,243.9L406.8,240.8L409.3,238.7L411.3,238.0 M411.3,238.0L408.2,234.8L405.5,233.3L403.9,229.8 M411.3,238.0L414.7,238.4L416.7,236.3L417.6,233.3L417.2,231.5L417.8,228.9L417.6,227.8L413.1,225.7L413.1,224.6 M403.9,229.8L407.0,230.0L410.4,226.5L413.1,225.7 M413.1,224.6L418.1,222.7L417.2,222.0L417.8,219.9L418.3,216.8L417.6,214.2 M401.5,217.2L404.1,217.7L407.3,218.3L409.5,219.9L412.0,221.6L412.0,219.4L409.5,218.6L409.8,214.7L410.4,212.5L413.8,212.0 M413.8,212.0L417.6,214.2L419.6,214.4L420.6,218.3L420.3,219.4L423.0,224.4L421.9,227.9L420.1,223.5L418.1,222.7 M420.6,218.3L425.9,218.5L431.1,216.0 M414.7,238.4L415.8,242.1L416.0,244.5L416.1,246.5L417.6,246.7 M416.0,244.5L414.2,244.7L413.8,246.5L414.7,247.5L416.1,246.5 M407.0,251.8L408.9,250.1L411.1,250.8L411.3,252.3L409.1,253.6L407.7,253.1L407.0,251.8 M428.9,205.4L426.2,203.2L426.1,202.3L419.6,198.6 M419.6,198.6L419.6,196.3L420.5,194.7L421.4,193.2L419.6,188.9 M419.6,198.6L413.8,198.6L413.3,198.7L411.6,199.3 M411.6,199.3L411.8,196.7L412.4,195.0L414.5,192.6L413.8,190.2 M411.6,199.3L410.6,201.7L410.9,203.8L411.3,205.1L411.5,207.9L413.8,212.0 M413.8,198.6L413.8,201.0L413.3,201.2L413.1,202.3L412.4,204.7L411.3,205.1 M410.6,201.7L413.3,201.2 M423.2,129.7L424.4,128.3L427.7,128.3L431.6,127.7L434.7,127.7L438.1,127.9L439.0,127.5 M439.0,127.5L438.3,125.5L437.8,123.4L439.0,122.9L437.0,121.9L436.7,120.3L435.1,119.3L433.1,119.5 M430.4,116.0L434.7,116.3L437.2,117.5L440.3,117.6L441.9,118.8L443.7,120.1L445.9,119.0 M436.7,120.3L439.4,120.1L441.9,118.8 M439.4,120.1L440.5,121.6L442.1,123.2L442.1,124.3 M439.0,122.9L442.1,124.3L444.8,122.9L446.4,125.3 M434.7,127.7L432.5,132.0L428.2,134.6L424.6,136.6L422.6,135.9 M422.5,132.3L424.3,133.1L423.0,134.8L422.5,134.9 M428.2,134.6L428.9,136.8L425.0,138.1L426.8,140.0L425.9,140.9L423.4,142.4L421.4,142.0 M428.9,136.8L431.1,137.4L434.2,138.9L438.8,142.4L442.1,142.6L443.7,142.8L444.3,140.7L444.8,140.9 M442.1,142.6L443.9,143.7L445.5,143.7 M439.0,127.5L440.1,129.7L441.4,131.4L440.1,133.5L441.4,135.3L443.5,136.2L444.4,139.0L445.9,140.9 M422.5,134.9L422.3,138.1L421.4,141.8 M420.1,138.5L421.2,141.8 M435.4,166.2L436.5,164.1L440.1,164.5L443.0,165.3L445.2,162.8L452.0,161.4 M452.0,161.4L457.4,159.5L458.7,155.8L457.8,154.5L453.1,154.1L451.3,151.7 M457.8,154.5L459.2,151.9L459.9,150.4 M452.0,161.4L454.0,165.6 M449.8,150.6L450.7,150.9 M455.4,127.3L457.0,127.1L461.6,126.0L465.0,127.1L467.3,128.8L468.4,128.8L468.6,130.5 M468.6,130.5L467.3,133.5L468.0,134.4L467.3,135.5L468.0,138.1L469.7,139.0L469.5,139.4L468.0,141.3L469.7,143.3L471.5,144.1L471.5,145.7L472.4,146.9L469.8,148.0L469.3,149.8 M468.0,141.3L470.9,142.2L477.8,141.1L478.0,139.6L483.2,137.4L483.2,134.4L485.0,134.6L486.4,132.9L487.1,130.3L486.8,129.6L489.7,128.4L492.7,127.9 M468.6,130.5L470.4,131.0L472.2,129.9L474.5,129.2L474.9,127.7L477.6,127.1L480.5,127.7L481.0,127.9L483.5,126.8L484.6,126.8L485.9,125.1L486.8,125.5L487.1,126.2L487.0,128.1L489.1,127.9L493.1,127.1 M478.1,127.1L478.1,126.0L475.8,125.3L474.0,124.3L470.7,122.3L469.8,120.3L466.6,119.7L467.3,118.6L463.9,117.1L462.5,118.2L460.8,119.0L461.0,119.9L459.0,119.9L458.3,119.9L456.9,118.6L452.9,119.0 M459.0,119.9L459.2,113.0L463.7,111.9L468.4,114.1L470.0,115.8L475.2,115.4L477.4,116.7L477.2,118.6L478.5,120.1L480.8,120.3L481.9,121.0L482.8,119.7L485.2,118.4L486.2,118.0 M486.2,118.0L486.6,117.3L490.7,117.6L490.9,116.5L492.0,116.2L494.5,116.9L500.8,116.9L502.8,118.2 M502.8,118.2L503.0,116.7L503.9,116.3L503.2,113.7L502.3,113.2L507.0,112.1L508.2,108.7L511.8,109.3L512.7,106.5L515.8,105.2 M515.8,105.2L514.7,104.1L512.4,104.3L508.6,101.7L505.9,102.2L503.5,101.1L502.5,102.0L498.5,97.4L496.2,95.9L492.4,97.2L490.6,96.3L486.6,96.1L486.1,94.0L482.8,93.7L476.7,95.1L475.8,95.5L468.9,96.3L468.0,96.8L469.5,98.1L467.7,98.7L468.0,101.8L469.3,102.2L466.2,102.2L465.7,102.8L463.5,101.7L460.7,101.8L458.7,102.6L456.5,101.8L452.5,100.5L449.8,100.5L446.1,102.6L445.9,103.9L443.9,102.8L442.6,104.8L443.0,106.7L442.1,106.7L443.5,108.0L445.0,108.0L445.9,110.0L446.8,110.4 M502.8,118.2L499.8,119.3L496.9,120.3L493.1,121.6L491.3,122.5L491.1,123.4L491.5,125.1L493.3,125.3L493.1,127.1 M491.1,123.4L487.7,123.6L485.3,122.3L483.2,121.0L485.7,120.4L487.9,119.9L489.8,120.6L487.5,122.1L485.5,121.9 M481.0,127.9L480.5,123.0L481.7,123.2L482.6,122.1L485.3,122.3 M481.2,152.6L482.3,151.3L486.2,151.3L485.9,149.8L484.8,147.4L483.5,146.7L485.5,144.6L487.7,144.8L489.5,142.9L490.6,140.9L492.4,139.0L492.4,137.7L494.0,136.6L491.8,134.6L491.1,132.9L492.0,132.2L494.9,132.5L498.5,130.7 M493.1,127.1L495.1,128.4L495.6,129.9L498.5,130.7L500.5,132.9L500.3,134.4L501.0,135.3L501.0,136.2L499.8,136.1L500.1,138.1L501.9,139.2L504.4,140.5 M504.4,140.5L506.6,140.7L508.4,141.8L510.0,143.1L511.5,143.5L512.9,144.2L514.9,144.6L517.1,144.8 M504.4,140.5L502.6,143.1L504.3,143.9L506.1,144.8L508.4,145.7L510.9,146.1L512.0,147.0L513.3,147.2L515.4,147.6L517.1,147.6L517.1,144.8 M517.1,144.8L518.3,144.4L519.6,144.6L520.5,144.1L523.5,145.0L525.0,144.8L526.6,143.5L528.8,142.2L530.2,142.8L531.5,141.8L532.4,143.1L533.6,144.1 M518.3,145.9L519.9,147.0L521.2,146.7L524.1,146.9L523.5,145.0 M518.3,145.9L518.3,144.4 M517.1,147.6L518.0,147.6L520.1,148.3L520.3,149.6L524.8,150.2L524.1,151.9L522.6,152.1L523.2,153.9L524.3,152.8L525.3,155.8L524.8,158.2 M517.1,147.6L517.4,148.7L518.5,149.8L517.1,151.1L518.1,151.7L517.8,152.8L518.5,153.9L518.7,155.6L518.7,156.3 M525.3,155.8L526.2,155.2L526.4,151.9L527.9,152.2L528.8,149.8L529.9,148.3L532.0,145.9L533.3,146.3L533.6,144.1 M533.6,144.1L535.3,145.2L536.2,147.0L536.2,148.5L534.4,150.0L534.2,152.1L536.2,151.9L536.7,153.7L537.6,154.1L537.1,155.6L539.2,156.5L540.7,156.2L540.7,156.9 M540.7,156.9L539.0,158.0L538.7,158.8L537.6,159.1L535.4,160.1L534.5,162.1L533.8,162.5L536.5,166.6L535.8,168.2L535.3,168.6L536.9,171.0L537.8,174.6L536.3,176.8L536.0,178.1 M538.7,158.8L539.6,160.4L540.8,160.4L540.3,162.5L540.5,164.1L542.3,163.0L543.9,163.2L545.7,162.8L547.1,164.7L547.1,166.2L548.6,167.7L547.9,170.1 M547.9,170.1L546.2,169.9L543.9,170.3L542.6,171.8L543.2,174.0L543.7,174.9 M547.9,170.1L549.3,170.8L550.2,169.5L551.8,170.3L552.2,171.6L552.0,173.8L549.0,175.1L549.7,176.2L547.9,176.4L546.4,177.2 M551.8,170.3L552.2,168.4L551.7,167.1L550.4,165.8L549.1,164.1L547.7,161.9L545.5,160.8L547.1,159.7L546.4,158.0L544.3,158.0L543.5,156.3L542.5,154.8 M540.7,156.9L541.6,157.3L542.5,154.8 M542.5,154.8L544.8,154.5L546.6,154.3L548.1,153.2L550.6,154.3L550.4,155.4L552.9,156.5 M538.7,184.6L539.0,184.4L540.5,185.2L540.7,186.1L541.7,185.9L542.3,185.2 M556.0,193.2L556.2,194.3L557.4,195.2L558.7,194.8L560.8,194.1L563.4,194.5L564.8,194.1L565.7,191.5L566.4,190.7L567.2,188.7L570.8,188.9 M563.9,188.1L565.2,188.9L565.7,187.6 M612.4,201.5L612.4,213.6 M581.7,214.0L583.5,213.6L583.7,214.4 M516.5,105.2L518.5,107.2L521.0,108.0L522.1,109.5L521.6,111.7L522.3,112.8L526.8,113.2L529.5,114.5L530.0,114.5L531.8,117.3L534.0,117.3L539.9,117.3L541.7,117.6L544.4,118.8L546.6,118.8L547.5,119.3L549.5,118.4L552.4,117.6L555.1,117.6L557.2,116.9L559.8,115.4L558.9,113.9L559.9,112.8L562.8,113.4L564.6,112.4L567.2,111.7L568.6,110.4L569.9,109.8L572.6,109.7L574.2,109.8L574.0,109.3L570.9,107.4L568.6,107.6L566.4,108.0L566.8,107.2L567.7,105.4L568.6,103.9 M515.8,105.2L516.5,105.2L518.3,104.6L521.7,103.1L524.4,102.2L527.9,102.8L529.1,103.7L533.6,104.3L535.3,103.0L534.5,101.8L536.5,100.0L542.3,101.3L542.6,102.8L545.2,103.5L549.1,103.0L550.9,103.1L553.8,105.0L557.8,105.4L561.7,104.6L564.4,103.3L565.5,103.5L568.6,103.9 M568.6,103.9L570.8,104.6L573.3,103.5L573.3,102.6L574.9,100.7L575.8,99.0L574.9,98.5L576.3,97.6L578.5,97.4L581.0,97.2L583.7,97.7L585.2,98.5L587.7,102.4L588.4,104.1L591.5,104.8L593.6,106.1L594.4,107.8L597.1,107.8L598.7,107.0L601.6,106.5L600.7,108.2L599.9,108.9L599.4,111.0L598.1,112.8L596.0,112.4L594.4,113.2L594.9,114.7L594.5,116.9L593.6,117.8 M593.6,117.8L592.6,116.7L591.8,117.8L589.0,118.6L589.3,119.5L587.0,119.0L585.7,120.3L583.7,121.2L582.5,122.3 M585.5,126.4L587.2,125.5L589.3,125.3L589.7,124.9" fill="none" stroke="#fff" stroke-width="0.75" stroke-linejoin="round" stroke-linecap="round"/>
<g fill-opacity="0.88" stroke="#fff" stroke-width="0.6" stroke-opacity="0.9"><circle cx="184.1" cy="136.2" r="8.79" fill="#46f783"/><circle cx="154.1" cy="97.4" r="3.99" fill="#4587fb"/><circle cx="138.3" cy="108.4" r="3.17" fill="#46f783"/><circle cx="143.6" cy="104.1" r="3.68" fill="#17dac4"/><circle cx="137.0" cy="105.3" r="2.66" fill="#20e9ac"/><circle cx="136.8" cy="115.0" r="4.70" fill="#b6f735"/><circle cx="138.8" cy="127.5" r="2.66" fill="#8bfe4b"/><circle cx="147.3" cy="133.4" r="3.32" fill="#17debf"/><circle cx="183.6" cy="104.3" r="2.55" fill="#78fe59"/><circle cx="184.6" cy="123.9" r="2.55" fill="#f9771e"/><circle cx="189.1" cy="129.9" r="3.32" fill="#ead339"/><circle cx="180.7" cy="142.1" r="3.99" fill="#467ff6"/><circle cx="182.2" cy="140.3" r="3.99" fill="#25c0e6"/><circle cx="187.5" cy="142.1" r="2.66" fill="#3e9bfe"/><circle cx="221.9" cy="111.5" r="5.62" fill="#ef5a11"/><circle cx="191.8" cy="114.5" r="4.09" fill="#e04008"/><circle cx="198.9" cy="109.2" r="2.66" fill="#fe9e2e"/><circle cx="193.6" cy="119.4" r="3.32" fill="#ae1801"/><circle cx="200.2" cy="116.8" r="2.55" fill="#b61c01"/><circle cx="204.0" cy="123.7" r="2.81" fill="#d43205"/><circle cx="202.3" cy="121.9" r="2.55" fill="#ce2d04"/><circle cx="208.9" cy="118.1" r="2.45" fill="#a01101"/><circle cx="210.7" cy="123.7" r="2.81" fill="#ce2d04"/><circle cx="216.8" cy="118.6" r="2.30" fill="#c92903"/><circle cx="214.2" cy="116.4" r="2.66" fill="#a01101"/><circle cx="226.0" cy="112.0" r="3.07" fill="#f26014"/><circle cx="228.5" cy="113.0" r="2.04" fill="#f76e1a"/><circle cx="230.3" cy="109.9" r="2.66" fill="#fe9e2e"/><circle cx="226.5" cy="120.1" r="3.32" fill="#c92903"/><circle cx="230.1" cy="118.4" r="3.32" fill="#ae1801"/><circle cx="219.9" cy="124.5" r="3.32" fill="#f9771e"/><circle cx="202.3" cy="134.5" r="2.66" fill="#92fe46"/><circle cx="210.1" cy="144.2" r="2.55" fill="#467af2"/><circle cx="201.3" cy="123.4" r="2.45" fill="#ce2d04"/><circle cx="205.2" cy="124.7" r="2.45" fill="#c92903"/><circle cx="208.7" cy="122.0" r="2.28" fill="#c32402"/><circle cx="211.8" cy="122.0" r="2.45" fill="#ae1801"/><circle cx="215.0" cy="119.9" r="2.63" fill="#c32402"/><circle cx="217.1" cy="117.1" r="2.63" fill="#ce2d04"/><circle cx="219.7" cy="114.7" r="2.98" fill="#e94d0d"/><circle cx="225.0" cy="112.9" r="3.15" fill="#f26014"/><circle cx="227.6" cy="115.0" r="2.63" fill="#f76e1a"/><circle cx="227.1" cy="120.6" r="3.15" fill="#c32402"/><circle cx="88.7" cy="83.0" r="2.57" fill="#32184a"/><circle cx="280.2" cy="230.0" r="2.37" fill="#4458cb"/><circle cx="279.5" cy="233.6" r="2.48" fill="#4353c2"/><circle cx="274.6" cy="240.3" r="3.21" fill="#3f3d9c"/><circle cx="280.9" cy="239.2" r="2.37" fill="#424bb5"/><circle cx="353.3" cy="95.7" r="2.30" fill="#dd3c07"/><circle cx="351.0" cy="97.8" r="2.55" fill="#c92903"/><circle cx="358.2" cy="96.8" r="2.66" fill="#c92903"/><circle cx="355.3" cy="99.8" r="2.55" fill="#d43205"/><circle cx="353.8" cy="101.6" r="2.30" fill="#d43205"/><circle cx="359.4" cy="101.9" r="2.96" fill="#d43205"/><circle cx="372.5" cy="107.0" r="2.45" fill="#fe9e2e"/><circle cx="368.1" cy="102.6" r="2.55" fill="#ce2d04"/><circle cx="374.2" cy="103.9" r="2.81" fill="#e04008"/><circle cx="370.7" cy="101.3" r="3.07" fill="#be2102"/><circle cx="367.4" cy="99.3" r="2.66" fill="#a01101"/><circle cx="357.6" cy="108.7" r="3.58" fill="#efcd39"/><circle cx="368.9" cy="112.8" r="3.32" fill="#b1f836"/><circle cx="377.1" cy="113.6" r="3.47" fill="#65fc68"/><circle cx="379.1" cy="109.0" r="2.66" fill="#e1dc37"/><circle cx="381.7" cy="93.4" r="4.34" fill="#f56817"/><circle cx="376.8" cy="92.4" r="2.45" fill="#f76e1a"/><circle cx="401.6" cy="94.9" r="4.34" fill="#ef5a11"/><circle cx="394.9" cy="103.9" r="3.83" fill="#e5460a"/><circle cx="396.9" cy="100.1" r="3.17" fill="#d43205"/><circle cx="392.4" cy="95.7" r="3.47" fill="#dd3c07"/><circle cx="390.8" cy="107.3" r="2.66" fill="#fda330"/><circle cx="388.0" cy="107.3" r="2.66" fill="#fda330"/><circle cx="345.9" cy="124.5" r="2.55" fill="#438efd"/><circle cx="377.1" cy="130.0" r="2.55" fill="#4353c2"/><circle cx="392.6" cy="67.3" r="2.55" fill="#424bb5"/><circle cx="377.3" cy="79.0" r="2.66" fill="#19e3b8"/><circle cx="377.8" cy="85.5" r="2.66" fill="#caed33"/><circle cx="405.2" cy="81.4" r="2.55" fill="#65fc68"/><circle cx="404.3" cy="75.7" r="3.32" fill="#28bbeb"/><circle cx="400.3" cy="80.5" r="1.53" fill="#80fe53"/><circle cx="398.4" cy="84.4" r="2.81" fill="#92fe46"/><circle cx="403.6" cy="85.5" r="2.30" fill="#a9fb39"/><circle cx="406.7" cy="88.5" r="3.17" fill="#ead339"/><circle cx="450.2" cy="82.3" r="2.86" fill="#1dcbda"/><circle cx="421.2" cy="137.1" r="3.61" fill="#4560d6"/><circle cx="414.6" cy="145.9" r="2.66" fill="#4353c2"/><circle cx="451.4" cy="149.7" r="2.85" fill="#467af2"/><circle cx="568.3" cy="122.5" r="2.66" fill="#78fe59"/><circle cx="550.5" cy="141.7" r="2.66" fill="#20e9ac"/><circle cx="562.0" cy="143.9" r="3.27" fill="#17dac4"/><circle cx="508.0" cy="149.7" r="2.55" fill="#3e9bfe"/><circle cx="517.6" cy="154.8" r="2.66" fill="#466de6"/><circle cx="491.7" cy="162.3" r="2.66" fill="#424bb5"/><circle cx="498.2" cy="172.6" r="3.37" fill="#36215f"/><circle cx="545.6" cy="194.2" r="2.55" fill="#32184a"/><circle cx="611.8" cy="119.6" r="2.55" fill="#17debf"/><circle cx="613.3" cy="116.7" r="2.81" fill="#28bbeb"/><circle cx="587.5" cy="126.9" r="3.47" fill="#f8be39"/><circle cx="609.2" cy="126.4" r="2.81" fill="#f8be39"/><circle cx="592.4" cy="133.2" r="3.32" fill="#fdab33"/><circle cx="595.4" cy="132.9" r="2.96" fill="#fdab33"/><circle cx="601.8" cy="133.5" r="3.32" fill="#fdab33"/><circle cx="599.5" cy="134.5" r="2.66" fill="#fdab33"/><circle cx="598.7" cy="130.7" r="2.96" fill="#fdab33"/><circle cx="603.1" cy="135.4" r="2.81" fill="#fdab33"/><circle cx="605.1" cy="131.2" r="3.17" fill="#fdab33"/><circle cx="607.7" cy="131.9" r="2.96" fill="#fdab33"/><circle cx="611.0" cy="130.7" r="3.47" fill="#fdab33"/><circle cx="613.3" cy="129.4" r="3.17" fill="#fdab33"/><circle cx="594.2" cy="138.0" r="2.66" fill="#caed33"/><circle cx="577.2" cy="138.6" r="2.81" fill="#c3f133"/><circle cx="588.8" cy="147.8" r="2.81" fill="#3e9bfe"/><circle cx="567.1" cy="255.8" r="3.88" fill="#4043a6"/><circle cx="634.3" cy="247.6" r="3.27" fill="#3c358b"/><circle cx="631.7" cy="260.9" r="3.47" fill="#4353c2"/><circle cx="631.0" cy="259.7" r="3.88" fill="#4666dd"/><circle cx="619.8" cy="266.6" r="2.45" fill="#424bb5"/><circle cx="675.2" cy="271.5" r="3.27" fill="#4043a6"/><circle cx="665.6" cy="281.7" r="4.50" fill="#36215f"/></g>
<line x1="33.9" x2="685" y1="592.92" y2="592.92" stroke="#ebebeb" stroke-width="0.55"/>
<line x1="33.9" x2="685" y1="561.95" y2="561.95" stroke="#ebebeb" stroke-width="0.55"/>
<line x1="33.9" x2="685" y1="530.99" y2="530.99" stroke="#ebebeb" stroke-width="0.55"/>
<line x1="33.9" x2="685" y1="500.02" y2="500.02" stroke="#ebebeb" stroke-width="0.55"/>
<line x1="33.9" x2="685" y1="469.06" y2="469.06" stroke="#ebebeb" stroke-width="0.55"/>
<line x1="33.9" x2="685" y1="438.09" y2="438.09" stroke="#ebebeb" stroke-width="0.55"/>
<line x1="74.96" x2="74.96" y1="410" y2="608.4" stroke="#ebebeb" stroke-width="0.55"/>
<line x1="123.89" x2="123.89" y1="410" y2="608.4" stroke="#ebebeb" stroke-width="0.55"/>
<line x1="172.81" x2="172.81" y1="410" y2="608.4" stroke="#ebebeb" stroke-width="0.55"/>
<line x1="221.74" x2="221.74" y1="410" y2="608.4" stroke="#ebebeb" stroke-width="0.55"/>
<line x1="270.66" x2="270.66" y1="410" y2="608.4" stroke="#ebebeb" stroke-width="0.55"/>
<line x1="319.59" x2="319.59" y1="410" y2="608.4" stroke="#ebebeb" stroke-width="0.55"/>
<line x1="368.51" x2="368.51" y1="410" y2="608.4" stroke="#ebebeb" stroke-width="0.55"/>
<line x1="417.44" x2="417.44" y1="410" y2="608.4" stroke="#ebebeb" stroke-width="0.55"/>
<line x1="466.36" x2="466.36" y1="410" y2="608.4" stroke="#ebebeb" stroke-width="0.55"/>
<line x1="515.29" x2="515.29" y1="410" y2="608.4" stroke="#ebebeb" stroke-width="0.55"/>
<line x1="564.21" x2="564.21" y1="410" y2="608.4" stroke="#ebebeb" stroke-width="0.55"/>
<line x1="613.14" x2="613.14" y1="410" y2="608.4" stroke="#ebebeb" stroke-width="0.55"/>
<line x1="662.06" x2="662.06" y1="410" y2="608.4" stroke="#ebebeb" stroke-width="0.55"/>
<line x1="33.9" x2="685" y1="608.40" y2="608.40" stroke="#ebebeb" stroke-width="1.1"/>
<line x1="33.9" x2="685" y1="577.43" y2="577.43" stroke="#ebebeb" stroke-width="1.1"/>
<line x1="33.9" x2="685" y1="546.47" y2="546.47" stroke="#ebebeb" stroke-width="1.1"/>
<line x1="33.9" x2="685" y1="515.50" y2="515.50" stroke="#ebebeb" stroke-width="1.1"/>
<line x1="33.9" x2="685" y1="484.54" y2="484.54" stroke="#ebebeb" stroke-width="1.1"/>
<line x1="33.9" x2="685" y1="453.57" y2="453.57" stroke="#ebebeb" stroke-width="1.1"/>
<line x1="33.9" x2="685" y1="422.61" y2="422.61" stroke="#ebebeb" stroke-width="1.1"/>
<line x1="50.50" x2="50.50" y1="410" y2="608.4" stroke="#ebebeb" stroke-width="1.1"/>
<line x1="99.42" x2="99.42" y1="410" y2="608.4" stroke="#ebebeb" stroke-width="1.1"/>
<line x1="148.35" x2="148.35" y1="410" y2="608.4" stroke="#ebebeb" stroke-width="1.1"/>
<line x1="197.28" x2="197.28" y1="410" y2="608.4" stroke="#ebebeb" stroke-width="1.1"/>
<line x1="246.20" x2="246.20" y1="410" y2="608.4" stroke="#ebebeb" stroke-width="1.1"/>
<line x1="295.12" x2="295.12" y1="410" y2="608.4" stroke="#ebebeb" stroke-width="1.1"/>
<line x1="344.05" x2="344.05" y1="410" y2="608.4" stroke="#ebebeb" stroke-width="1.1"/>
<line x1="392.98" x2="392.98" y1="410" y2="608.4" stroke="#ebebeb" stroke-width="1.1"/>
<line x1="441.90" x2="441.90" y1="410" y2="608.4" stroke="#ebebeb" stroke-width="1.1"/>
<line x1="490.82" x2="490.82" y1="410" y2="608.4" stroke="#ebebeb" stroke-width="1.1"/>
<line x1="539.75" x2="539.75" y1="410" y2="608.4" stroke="#ebebeb" stroke-width="1.1"/>
<line x1="588.67" x2="588.67" y1="410" y2="608.4" stroke="#ebebeb" stroke-width="1.1"/>
<line x1="637.60" x2="637.60" y1="410" y2="608.4" stroke="#ebebeb" stroke-width="1.1"/>
<rect x="55.39" y="602.21" width="9.785" height="6.19" fill="#8b67f7"/>
<path d="M55.39,608.9499999999999V602.21H65.18V608.9499999999999" fill="none" stroke="#fff" stroke-width="1.2"/>
<rect x="104.32" y="602.21" width="9.785" height="6.19" fill="#8b67f7"/>
<path d="M104.32,608.9499999999999V602.21H114.10V608.9499999999999" fill="none" stroke="#fff" stroke-width="1.2"/>
<rect x="123.89" y="596.01" width="9.785" height="12.39" fill="#8b67f7"/>
<path d="M123.89,608.9499999999999V596.01H133.67V608.9499999999999" fill="none" stroke="#fff" stroke-width="1.2"/>
<rect x="133.67" y="589.82" width="9.785" height="18.58" fill="#8b67f7"/>
<path d="M133.67,608.9499999999999V589.82H143.46V608.9499999999999" fill="none" stroke="#fff" stroke-width="1.2"/>
<rect x="143.46" y="602.21" width="9.785" height="6.19" fill="#8b67f7"/>
<path d="M143.46,608.9499999999999V602.21H153.24V608.9499999999999" fill="none" stroke="#fff" stroke-width="1.2"/>
<rect x="172.81" y="602.21" width="9.785" height="6.19" fill="#8b67f7"/>
<path d="M172.81,608.9499999999999V602.21H182.60V608.9499999999999" fill="none" stroke="#fff" stroke-width="1.2"/>
<rect x="202.17" y="589.82" width="9.785" height="18.58" fill="#8b67f7"/>
<path d="M202.17,608.9499999999999V589.82H211.95V608.9499999999999" fill="none" stroke="#fff" stroke-width="1.2"/>
<rect x="231.52" y="602.21" width="9.785" height="6.19" fill="#8b67f7"/>
<path d="M231.52,608.9499999999999V602.21H241.31V608.9499999999999" fill="none" stroke="#fff" stroke-width="1.2"/>
<rect x="241.31" y="589.82" width="9.785" height="18.58" fill="#8b67f7"/>
<path d="M241.31,608.9499999999999V589.82H251.09V608.9499999999999" fill="none" stroke="#fff" stroke-width="1.2"/>
<rect x="260.88" y="596.01" width="9.785" height="12.39" fill="#8b67f7"/>
<path d="M260.88,608.9499999999999V596.01H270.66V608.9499999999999" fill="none" stroke="#fff" stroke-width="1.2"/>
<rect x="280.45" y="602.21" width="9.785" height="6.19" fill="#8b67f7"/>
<path d="M280.45,608.9499999999999V602.21H290.23V608.9499999999999" fill="none" stroke="#fff" stroke-width="1.2"/>
<rect x="300.02" y="589.82" width="9.785" height="18.58" fill="#8b67f7"/>
<path d="M300.02,608.9499999999999V589.82H309.80V608.9499999999999" fill="none" stroke="#fff" stroke-width="1.2"/>
<rect x="309.80" y="596.01" width="9.785" height="12.39" fill="#8b67f7"/>
<path d="M309.80,608.9499999999999V596.01H319.59V608.9499999999999" fill="none" stroke="#fff" stroke-width="1.2"/>
<rect x="319.59" y="589.82" width="9.785" height="18.58" fill="#8b67f7"/>
<path d="M319.59,608.9499999999999V589.82H329.37V608.9499999999999" fill="none" stroke="#fff" stroke-width="1.2"/>
<rect x="329.37" y="571.24" width="9.785" height="37.16" fill="#8b67f7"/>
<path d="M329.37,608.9499999999999V571.24H339.16V608.9499999999999" fill="none" stroke="#fff" stroke-width="1.2"/>
<rect x="339.16" y="602.21" width="9.785" height="6.19" fill="#8b67f7"/>
<path d="M339.16,608.9499999999999V602.21H348.94V608.9499999999999" fill="none" stroke="#fff" stroke-width="1.2"/>
<rect x="348.94" y="596.01" width="9.785" height="12.39" fill="#8b67f7"/>
<path d="M348.94,608.9499999999999V596.01H358.73V608.9499999999999" fill="none" stroke="#fff" stroke-width="1.2"/>
<rect x="358.73" y="583.63" width="9.785" height="24.77" fill="#8b67f7"/>
<path d="M358.73,608.9499999999999V583.63H368.51V608.9499999999999" fill="none" stroke="#fff" stroke-width="1.2"/>
<rect x="368.51" y="596.01" width="9.785" height="12.39" fill="#8b67f7"/>
<path d="M368.51,608.9499999999999V596.01H378.30V608.9499999999999" fill="none" stroke="#fff" stroke-width="1.2"/>
<rect x="378.30" y="571.24" width="9.785" height="37.16" fill="#8b67f7"/>
<path d="M378.30,608.9499999999999V571.24H388.08V608.9499999999999" fill="none" stroke="#fff" stroke-width="1.2"/>
<rect x="388.08" y="565.05" width="9.785" height="43.35" fill="#8b67f7"/>
<path d="M388.08,608.9499999999999V565.05H397.87V608.9499999999999" fill="none" stroke="#fff" stroke-width="1.2"/>
<rect x="397.87" y="596.01" width="9.785" height="12.39" fill="#8b67f7"/>
<path d="M397.87,608.9499999999999V596.01H407.65V608.9499999999999" fill="none" stroke="#fff" stroke-width="1.2"/>
<rect x="407.65" y="583.63" width="9.785" height="24.77" fill="#8b67f7"/>
<path d="M407.65,608.9499999999999V583.63H417.44V608.9499999999999" fill="none" stroke="#fff" stroke-width="1.2"/>
<rect x="417.44" y="577.43" width="9.785" height="30.96" fill="#8b67f7"/>
<path d="M417.44,608.9499999999999V577.43H427.22V608.9499999999999" fill="none" stroke="#fff" stroke-width="1.2"/>
<rect x="427.22" y="565.05" width="9.785" height="43.35" fill="#8b67f7"/>
<path d="M427.22,608.9499999999999V565.05H437.01V608.9499999999999" fill="none" stroke="#fff" stroke-width="1.2"/>
<rect x="437.01" y="552.66" width="9.785" height="55.74" fill="#8b67f7"/>
<path d="M437.01,608.9499999999999V552.66H446.79V608.9499999999999" fill="none" stroke="#fff" stroke-width="1.2"/>
<rect x="446.79" y="558.86" width="9.785" height="49.54" fill="#8b67f7"/>
<path d="M446.79,608.9499999999999V558.86H456.58V608.9499999999999" fill="none" stroke="#fff" stroke-width="1.2"/>
<rect x="456.58" y="577.43" width="9.785" height="30.96" fill="#8b67f7"/>
<path d="M456.58,608.9499999999999V577.43H466.36V608.9499999999999" fill="none" stroke="#fff" stroke-width="1.2"/>
<rect x="466.36" y="552.66" width="9.785" height="55.74" fill="#8b67f7"/>
<path d="M466.36,608.9499999999999V552.66H476.15V608.9499999999999" fill="none" stroke="#fff" stroke-width="1.2"/>
<rect x="476.15" y="546.47" width="9.785" height="61.93" fill="#8b67f7"/>
<path d="M476.15,608.9499999999999V546.47H485.93V608.9499999999999" fill="none" stroke="#fff" stroke-width="1.2"/>
<rect x="485.93" y="546.47" width="9.785" height="61.93" fill="#8b67f7"/>
<path d="M485.93,608.9499999999999V546.47H495.72V608.9499999999999" fill="none" stroke="#fff" stroke-width="1.2"/>
<rect x="495.72" y="552.66" width="9.785" height="55.74" fill="#8b67f7"/>
<path d="M495.72,608.9499999999999V552.66H505.50V608.9499999999999" fill="none" stroke="#fff" stroke-width="1.2"/>
<rect x="505.50" y="546.47" width="9.785" height="61.93" fill="#8b67f7"/>
<path d="M505.50,608.9499999999999V546.47H515.29V608.9499999999999" fill="none" stroke="#fff" stroke-width="1.2"/>
<rect x="515.29" y="521.70" width="9.785" height="86.70" fill="#8b67f7"/>
<path d="M515.29,608.9499999999999V521.70H525.07V608.9499999999999" fill="none" stroke="#fff" stroke-width="1.2"/>
<rect x="525.07" y="558.86" width="9.785" height="49.54" fill="#8b67f7"/>
<path d="M525.07,608.9499999999999V558.86H534.86V608.9499999999999" fill="none" stroke="#fff" stroke-width="1.2"/>
<rect x="534.86" y="527.89" width="9.785" height="80.51" fill="#8b67f7"/>
<path d="M534.86,608.9499999999999V527.89H544.64V608.9499999999999" fill="none" stroke="#fff" stroke-width="1.2"/>
<rect x="544.64" y="509.31" width="9.785" height="99.09" fill="#8b67f7"/>
<path d="M544.64,608.9499999999999V509.31H554.43V608.9499999999999" fill="none" stroke="#fff" stroke-width="1.2"/>
<rect x="554.43" y="521.70" width="9.785" height="86.70" fill="#8b67f7"/>
<path d="M554.43,608.9499999999999V521.70H564.21V608.9499999999999" fill="none" stroke="#fff" stroke-width="1.2"/>
<rect x="564.21" y="534.08" width="9.785" height="74.32" fill="#8b67f7"/>
<path d="M564.21,608.9499999999999V534.08H574.00V608.9499999999999" fill="none" stroke="#fff" stroke-width="1.2"/>
<rect x="574.00" y="515.50" width="9.785" height="92.89" fill="#8b67f7"/>
<path d="M574.00,608.9499999999999V515.50H583.78V608.9499999999999" fill="none" stroke="#fff" stroke-width="1.2"/>
<rect x="583.78" y="472.15" width="9.785" height="136.25" fill="#8b67f7"/>
<path d="M583.78,608.9499999999999V472.15H593.57V608.9499999999999" fill="none" stroke="#fff" stroke-width="1.2"/>
<rect x="593.57" y="472.15" width="9.785" height="136.25" fill="#8b67f7"/>
<path d="M593.57,608.9499999999999V472.15H603.35V608.9499999999999" fill="none" stroke="#fff" stroke-width="1.2"/>
<rect x="603.35" y="478.35" width="9.785" height="130.05" fill="#8b67f7"/>
<path d="M603.35,608.9499999999999V478.35H613.14V608.9499999999999" fill="none" stroke="#fff" stroke-width="1.2"/>
<rect x="613.14" y="509.31" width="9.785" height="99.09" fill="#8b67f7"/>
<path d="M613.14,608.9499999999999V509.31H622.92V608.9499999999999" fill="none" stroke="#fff" stroke-width="1.2"/>
<rect x="622.92" y="509.31" width="9.785" height="99.09" fill="#8b67f7"/>
<path d="M622.92,608.9499999999999V509.31H632.71V608.9499999999999" fill="none" stroke="#fff" stroke-width="1.2"/>
<rect x="632.71" y="441.19" width="9.785" height="167.21" fill="#8b67f7"/>
<path d="M632.71,608.9499999999999V441.19H642.49V608.9499999999999" fill="none" stroke="#fff" stroke-width="1.2"/>
<rect x="642.49" y="478.35" width="9.785" height="130.05" fill="#8b67f7"/>
<path d="M642.49,608.9499999999999V478.35H652.28V608.9499999999999" fill="none" stroke="#fff" stroke-width="1.2"/>
<rect x="652.28" y="521.70" width="9.785" height="86.70" fill="#8b67f7"/>
<path d="M652.28,608.9499999999999V521.70H662.06V608.9499999999999" fill="none" stroke="#fff" stroke-width="1.2"/>
<rect x="662.06" y="509.31" width="9.785" height="99.09" fill="#8b67f7"/>
<path d="M662.06,608.9499999999999V509.31H671.85V608.9499999999999" fill="none" stroke="#fff" stroke-width="1.2"/>
<text x="28.4" y="612.50" text-anchor="end" font-size="10.5" fill="#4d4d4d">0</text>
<text x="28.4" y="581.53" text-anchor="end" font-size="10.5" fill="#4d4d4d">5</text>
<text x="28.4" y="550.57" text-anchor="end" font-size="10.5" fill="#4d4d4d">10</text>
<text x="28.4" y="519.61" text-anchor="end" font-size="10.5" fill="#4d4d4d">15</text>
<text x="28.4" y="488.64" text-anchor="end" font-size="10.5" fill="#4d4d4d">20</text>
<text x="28.4" y="457.68" text-anchor="end" font-size="10.5" fill="#4d4d4d">25</text>
<text x="28.4" y="426.71" text-anchor="end" font-size="10.5" fill="#4d4d4d">30</text>
<text x="50.50" y="622.6" text-anchor="middle" font-size="10.5" fill="#4d4d4d">1960</text>
<text x="99.42" y="622.6" text-anchor="middle" font-size="10.5" fill="#4d4d4d">1965</text>
<text x="148.35" y="622.6" text-anchor="middle" font-size="10.5" fill="#4d4d4d">1970</text>
<text x="197.28" y="622.6" text-anchor="middle" font-size="10.5" fill="#4d4d4d">1975</text>
<text x="246.20" y="622.6" text-anchor="middle" font-size="10.5" fill="#4d4d4d">1980</text>
<text x="295.12" y="622.6" text-anchor="middle" font-size="10.5" fill="#4d4d4d">1985</text>
<text x="344.05" y="622.6" text-anchor="middle" font-size="10.5" fill="#4d4d4d">1990</text>
<text x="392.98" y="622.6" text-anchor="middle" font-size="10.5" fill="#4d4d4d">1995</text>
<text x="441.90" y="622.6" text-anchor="middle" font-size="10.5" fill="#4d4d4d">2000</text>
<text x="490.82" y="622.6" text-anchor="middle" font-size="10.5" fill="#4d4d4d">2005</text>
<text x="539.75" y="622.6" text-anchor="middle" font-size="10.5" fill="#4d4d4d">2010</text>
<text x="588.67" y="622.6" text-anchor="middle" font-size="10.5" fill="#4d4d4d">2015</text>
<text x="637.60" y="622.6" text-anchor="middle" font-size="10.5" fill="#4d4d4d">2020</text>
<text x="684" y="637.6" font-size="13.1" text-anchor="end" textLength="108.4" lengthAdjust="spacingAndGlyphs" fill="#000">Year of publication</text>
<text transform="translate(10.9,573.4) rotate(-90)" font-size="13.1" textLength="128" lengthAdjust="spacingAndGlyphs" fill="#000">Reports published (k)</text>
<text x="0.6" y="400.2" font-size="15.7" textLength="246" lengthAdjust="spacingAndGlyphs" fill="#000">Publication date of included reports</text>
<text x="0.2" y="11.7" font-size="15.7" textLength="287" lengthAdjust="spacingAndGlyphs" fill="#000">Geographical location of included reports</text>
<text x="43.6" y="358.7" font-size="13.1" textLength="143" lengthAdjust="spacingAndGlyphs" fill="#000">Location study count (k)</text>
<text x="436.4" y="358.7" font-size="13.1" textLength="125.5" lengthAdjust="spacingAndGlyphs" fill="#000">Geographical density</text>
<text x="569.1" y="379.2" font-size="11.6" text-anchor="middle" fill="#000">Low</text>
<text x="661.6" y="379.2" font-size="11.6" textLength="24.2" lengthAdjust="spacingAndGlyphs" fill="#000">High</text>
<circle cx="202.4" cy="353.5" r="2.8" fill="#555"/>
<text x="219.6" y="357.7" font-size="11.6" fill="#000">1</text>
<circle cx="243.4" cy="353.5" r="4.6" fill="#555"/>
<text x="260.6" y="357.7" font-size="11.6" fill="#000">5</text>
<circle cx="284.3" cy="353.5" r="5.4" fill="#555"/>
<text x="302.2" y="357.7" font-size="11.6" fill="#000">10</text>
<circle cx="332.1" cy="353.5" r="6.3" fill="#555"/>
<text x="349.6" y="357.7" font-size="11.6" fill="#000">20</text>
<circle cx="379.7" cy="353.5" r="7.5" fill="#555"/>
<text x="397.3" y="357.7" font-size="11.6" fill="#000">40</text>
<defs><linearGradient id="tb" x1="0" x2="1" y1="0" y2="0"><stop offset="0.00" stop-color="#30123b"/><stop offset="0.05" stop-color="#3c358b"/><stop offset="0.10" stop-color="#4456c7"/><stop offset="0.15" stop-color="#4678f0"/><stop offset="0.20" stop-color="#4096fe"/><stop offset="0.25" stop-color="#2db4f1"/><stop offset="0.30" stop-color="#1ad1d2"/><stop offset="0.35" stop-color="#1be5b4"/><stop offset="0.40" stop-color="#38f491"/><stop offset="0.45" stop-color="#69fd65"/><stop offset="0.50" stop-color="#95fe44"/><stop offset="0.55" stop-color="#b6f735"/><stop offset="0.60" stop-color="#d6e535"/><stop offset="0.65" stop-color="#edcf39"/><stop offset="0.70" stop-color="#fbb537"/><stop offset="0.75" stop-color="#fd9229"/><stop offset="0.80" stop-color="#f76e1a"/><stop offset="0.85" stop-color="#e94d0d"/><stop offset="0.90" stop-color="#d43205"/><stop offset="0.95" stop-color="#b91e01"/><stop offset="1.00" stop-color="#940c01"/></linearGradient></defs>
<rect x="568.2" y="342.6" width="106" height="22" fill="url(#tb)" stroke="#333" stroke-width="0.6"/>
<path d="M568.3,342.6V364.6M674.1,342.6V364.6" stroke="#111" stroke-width="0.9" fill="none"/>
</svg>
</body></html>
